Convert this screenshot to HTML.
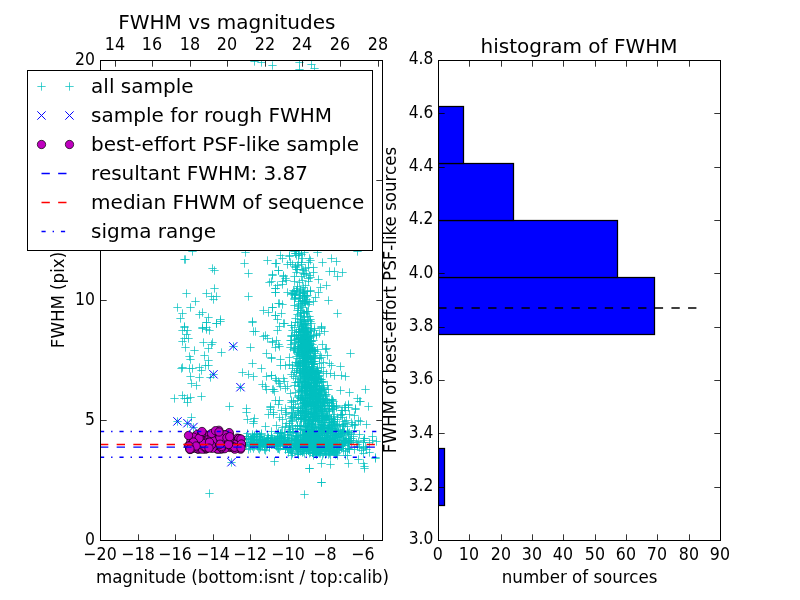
<!DOCTYPE html>
<html><head><meta charset="utf-8"><title>FWHM vs magnitudes</title>
<style>html,body{margin:0;padding:0;background:#fff}body{width:800px;height:600px;overflow:hidden}</style></head>
<body>
<svg width="800" height="600" viewBox="0 0 800 600" style="display:block;font-family:'DejaVu Sans', 'Liberation Sans', sans-serif">
<rect x="0" y="0" width="800" height="600" fill="#fff"/>
<defs><clipPath id="c1"><rect x="100.5" y="60.5" width="282.0" height="480.0"/></clipPath><clipPath id="c2"><rect x="438.5" y="60.5" width="282.0" height="480.0"/></clipPath></defs>
<g clip-path="url(#c1)">
<path d="M180.33 259.5h8.34M184.5 255.33v8.34M181.33 259.5h8.34M185.5 255.33v8.34M188.33 251.5h8.34M192.5 247.33v8.34M208.33 268.5h8.34M212.5 264.33v8.34M210.33 270.5h8.34M214.5 266.33v8.34M241.33 252.5h8.34M245.5 248.33v8.34M240.33 263.5h8.34M244.5 259.33v8.34M244.33 273.5h8.34M248.5 269.33v8.34M263.33 260.5h8.34M267.5 256.33v8.34M271.33 263.5h8.34M275.5 259.33v8.34M274.33 270.5h8.34M278.5 266.33v8.34M268.33 274.5h8.34M272.5 270.33v8.34M265.33 282.5h8.34M269.5 278.33v8.34M267.33 281.5h8.34M271.5 277.33v8.34M271.33 288.5h8.34M275.5 284.33v8.34M271.33 292.5h8.34M275.5 288.33v8.34M210.33 288.5h8.34M214.5 284.33v8.34M202.33 293.5h8.34M206.5 289.33v8.34M207.33 296.5h8.34M211.5 292.33v8.34M212.33 296.5h8.34M216.5 292.33v8.34M209.33 299.5h8.34M213.5 295.33v8.34M182.33 293.5h8.34M186.5 289.33v8.34M191.33 301.5h8.34M195.5 297.33v8.34M173.33 307.5h8.34M177.5 303.33v8.34M186.33 307.5h8.34M190.5 303.33v8.34M178.33 313.5h8.34M182.5 309.33v8.34M176.33 318.5h8.34M180.5 314.33v8.34M198.33 312.5h8.34M202.5 308.33v8.34M195.33 314.5h8.34M199.5 310.33v8.34M204.33 317.5h8.34M208.5 313.33v8.34M202.33 322.5h8.34M206.5 318.33v8.34M216.33 319.5h8.34M220.5 315.33v8.34M212.33 323.5h8.34M216.5 319.33v8.34M244.33 296.5h8.34M248.5 292.33v8.34M248.33 321.5h8.34M252.5 317.33v8.34M259.33 310.5h8.34M263.5 306.33v8.34M264.33 312.5h8.34M268.5 308.33v8.34M268.33 307.5h8.34M272.5 303.33v8.34M271.33 315.5h8.34M275.5 311.33v8.34M274.33 303.5h8.34M278.5 299.33v8.34M180.33 326.5h8.34M184.5 322.33v8.34M198.33 327.5h8.34M202.5 323.33v8.34M202.33 327.5h8.34M206.5 323.33v8.34M180.33 327.5h8.34M184.5 323.33v8.34M178.33 330.5h8.34M182.5 326.33v8.34M183.33 330.5h8.34M187.5 326.33v8.34M182.33 334.5h8.34M186.5 330.33v8.34M180.33 338.5h8.34M184.5 334.33v8.34M184.33 338.5h8.34M188.5 334.33v8.34M178.33 341.5h8.34M182.5 337.33v8.34M181.33 347.5h8.34M185.5 343.33v8.34M190.33 350.5h8.34M194.5 346.33v8.34M202.33 322.5h8.34M206.5 318.33v8.34M198.33 328.5h8.34M202.5 324.33v8.34M202.33 329.5h8.34M206.5 325.33v8.34M205.33 330.5h8.34M209.5 326.33v8.34M212.33 323.5h8.34M216.5 319.33v8.34M216.33 321.5h8.34M220.5 317.33v8.34M199.33 342.5h8.34M203.5 338.33v8.34M208.33 342.5h8.34M212.5 338.33v8.34M207.33 344.5h8.34M211.5 340.33v8.34M204.33 348.5h8.34M208.5 344.33v8.34M217.33 352.5h8.34M221.5 348.33v8.34M200.33 355.5h8.34M204.5 351.33v8.34M204.33 360.5h8.34M208.5 356.33v8.34M185.33 356.5h8.34M189.5 352.33v8.34M186.33 359.5h8.34M190.5 355.33v8.34M178.33 367.5h8.34M182.5 363.33v8.34M177.33 368.5h8.34M181.5 364.33v8.34M185.33 368.5h8.34M189.5 364.33v8.34M188.33 368.5h8.34M192.5 364.33v8.34M195.33 367.5h8.34M199.5 363.33v8.34M197.33 370.5h8.34M201.5 366.33v8.34M201.33 365.5h8.34M205.5 361.33v8.34M204.33 365.5h8.34M208.5 361.33v8.34M186.33 376.5h8.34M190.5 372.33v8.34M195.33 377.5h8.34M199.5 373.33v8.34M206.33 377.5h8.34M210.5 373.33v8.34M187.33 383.5h8.34M191.5 379.33v8.34M192.33 385.5h8.34M196.5 381.33v8.34M170.33 398.5h8.34M174.5 394.33v8.34M178.33 395.5h8.34M182.5 391.33v8.34M180.33 398.5h8.34M184.5 394.33v8.34M183.33 398.5h8.34M187.5 394.33v8.34M186.33 397.5h8.34M190.5 393.33v8.34M183.33 402.5h8.34M187.5 398.33v8.34M197.33 396.5h8.34M201.5 392.33v8.34M248.33 322.5h8.34M252.5 318.33v8.34M249.33 331.5h8.34M253.5 327.33v8.34M246.33 347.5h8.34M250.5 343.33v8.34M248.33 363.5h8.34M252.5 359.33v8.34M238.33 372.5h8.34M242.5 368.33v8.34M244.33 374.5h8.34M248.5 370.33v8.34M249.33 376.5h8.34M253.5 372.33v8.34M257.33 368.5h8.34M261.5 364.33v8.34M261.33 335.5h8.34M265.5 331.33v8.34M263.33 338.5h8.34M267.5 334.33v8.34M259.33 336.5h8.34M263.5 332.33v8.34M268.33 342.5h8.34M272.5 338.33v8.34M273.33 330.5h8.34M277.5 326.33v8.34M262.33 353.5h8.34M266.5 349.33v8.34M267.33 358.5h8.34M271.5 354.33v8.34M262.33 376.5h8.34M266.5 372.33v8.34M267.33 375.5h8.34M271.5 371.33v8.34M271.33 378.5h8.34M275.5 374.33v8.34M274.33 381.5h8.34M278.5 377.33v8.34M258.33 384.5h8.34M262.5 380.33v8.34M261.33 386.5h8.34M265.5 382.33v8.34M268.33 389.5h8.34M272.5 385.33v8.34M270.33 391.5h8.34M274.5 387.33v8.34M242.33 408.5h8.34M246.5 404.33v8.34M266.33 407.5h8.34M270.5 403.33v8.34M274.33 404.5h8.34M278.5 400.33v8.34M229.33 346.5h8.34M233.5 342.33v8.34M209.33 374.5h8.34M213.5 370.33v8.34M236.33 387.5h8.34M240.5 383.33v8.34M173.33 421.5h8.34M177.5 417.33v8.34M183.33 423.5h8.34M187.5 419.33v8.34M189.33 427.5h8.34M193.5 423.33v8.34M227.33 462.5h8.34M231.5 458.33v8.34M187.33 417.5h8.34M191.5 413.33v8.34M242.33 412.5h8.34M246.5 408.33v8.34M318.33 262.5h8.34M322.5 258.33v8.34M327.33 258.5h8.34M331.5 254.33v8.34M332.33 261.5h8.34M336.5 257.33v8.34M330.33 271.5h8.34M334.5 267.33v8.34M338.33 272.5h8.34M342.5 268.33v8.34M333.33 276.5h8.34M337.5 272.33v8.34M314.33 279.5h8.34M318.5 275.33v8.34M305.33 275.5h8.34M309.5 271.33v8.34M322.33 285.5h8.34M326.5 281.33v8.34M316.33 287.5h8.34M320.5 283.33v8.34M314.33 292.5h8.34M318.5 288.33v8.34M306.33 291.5h8.34M310.5 287.33v8.34M302.33 296.5h8.34M306.5 292.33v8.34M353.33 251.5h8.34M357.5 247.33v8.34M317.33 327.5h8.34M321.5 323.33v8.34M272.33 263.5h8.34M276.5 259.33v8.34M274.33 270.5h8.34M278.5 266.33v8.34M279.33 276.5h8.34M283.5 272.33v8.34M268.33 275.5h8.34M272.5 271.33v8.34M271.33 288.5h8.34M275.5 284.33v8.34M271.33 292.5h8.34M275.5 288.33v8.34M278.33 284.5h8.34M282.5 280.33v8.34M275.33 303.5h8.34M279.5 299.33v8.34M278.33 304.5h8.34M282.5 300.33v8.34M268.33 307.5h8.34M272.5 303.33v8.34M271.33 315.5h8.34M275.5 311.33v8.34M277.33 313.5h8.34M281.5 309.33v8.34M273.33 319.5h8.34M277.5 315.33v8.34M279.33 323.5h8.34M283.5 319.33v8.34M275.33 326.5h8.34M279.5 322.33v8.34M317.33 328.5h8.34M321.5 324.33v8.34M318.33 344.5h8.34M322.5 340.33v8.34M323.33 355.5h8.34M327.5 351.33v8.34M327.33 365.5h8.34M331.5 361.33v8.34M322.33 373.5h8.34M326.5 369.33v8.34M337.33 375.5h8.34M341.5 371.33v8.34M341.33 376.5h8.34M345.5 372.33v8.34M361.33 389.5h8.34M365.5 385.33v8.34M345.33 392.5h8.34M349.5 388.33v8.34M336.33 390.5h8.34M340.5 386.33v8.34M353.33 398.5h8.34M357.5 394.33v8.34M356.33 401.5h8.34M360.5 397.33v8.34M344.33 404.5h8.34M348.5 400.33v8.34M351.33 408.5h8.34M355.5 404.33v8.34M268.33 341.5h8.34M272.5 337.33v8.34M267.33 357.5h8.34M271.5 353.33v8.34M276.33 359.5h8.34M280.5 355.33v8.34M276.33 365.5h8.34M280.5 361.33v8.34M281.33 365.5h8.34M285.5 361.33v8.34M285.33 364.5h8.34M289.5 360.33v8.34M267.33 375.5h8.34M271.5 371.33v8.34M272.33 380.5h8.34M276.5 376.33v8.34M275.33 383.5h8.34M279.5 379.33v8.34M269.33 389.5h8.34M273.5 385.33v8.34M276.33 386.5h8.34M280.5 382.33v8.34M305.33 468.5h8.34M309.5 464.33v8.34M317.33 482.5h8.34M321.5 478.33v8.34M326.33 464.5h8.34M330.5 460.33v8.34M317.33 463.5h8.34M321.5 459.33v8.34M360.33 468.5h8.34M364.5 464.33v8.34M359.33 463.5h8.34M363.5 459.33v8.34M344.33 463.5h8.34M348.5 459.33v8.34M270.33 461.5h8.34M274.5 457.33v8.34M371.33 457.5h8.34M375.5 453.33v8.34M354.33 459.5h8.34M358.5 455.33v8.34M368.33 436.5h8.34M372.5 432.33v8.34M368.33 440.5h8.34M372.5 436.33v8.34M362.33 424.5h8.34M366.5 420.33v8.34M356.33 421.5h8.34M360.5 417.33v8.34M351.33 409.5h8.34M355.5 405.33v8.34M350.33 415.5h8.34M354.5 411.33v8.34M344.33 405.5h8.34M348.5 401.33v8.34M355.33 401.5h8.34M359.5 397.33v8.34M338.33 410.5h8.34M342.5 406.33v8.34M205.33 493.5h8.34M209.5 489.33v8.34M300.33 494.5h8.34M304.5 490.33v8.34M317.33 482.5h8.34M321.5 478.33v8.34M305.33 468.5h8.34M309.5 464.33v8.34M360.33 466.5h8.34M364.5 462.33v8.34M371.33 458.5h8.34M375.5 454.33v8.34M268.33 65.5h8.34M272.5 61.33v8.34M295.33 62.5h8.34M299.5 58.33v8.34M295.33 69.5h8.34M299.5 65.33v8.34M307.33 64.5h8.34M311.5 60.33v8.34M310.33 68.5h8.34M314.5 64.33v8.34M257.33 62.5h8.34M261.5 58.33v8.34M250.33 61.5h8.34M254.5 57.33v8.34M291.33 253.5h8.34M295.5 249.33v8.34M304.33 278.5h8.34M308.5 274.33v8.34M296.33 289.5h8.34M300.5 285.33v8.34M313.33 252.5h8.34M317.5 248.33v8.34M306.33 260.5h8.34M310.5 256.33v8.34M295.33 282.5h8.34M299.5 278.33v8.34M293.33 265.5h8.34M297.5 261.33v8.34M293.33 286.5h8.34M297.5 282.33v8.34M298.33 258.5h8.34M302.5 254.33v8.34M292.33 250.5h8.34M296.5 246.33v8.34M300.33 274.5h8.34M304.5 270.33v8.34M294.33 255.5h8.34M298.5 251.33v8.34M299.33 270.5h8.34M303.5 266.33v8.34M301.33 268.5h8.34M305.5 264.33v8.34M278.33 258.5h8.34M282.5 254.33v8.34M293.33 269.5h8.34M297.5 265.33v8.34M297.33 264.5h8.34M301.5 260.33v8.34M297.33 262.5h8.34M301.5 258.33v8.34M292.33 272.5h8.34M296.5 268.33v8.34M283.33 264.5h8.34M287.5 260.33v8.34M290.33 276.5h8.34M294.5 272.33v8.34M281.33 278.5h8.34M285.5 274.33v8.34M291.33 266.5h8.34M295.5 262.33v8.34M304.33 267.5h8.34M308.5 263.33v8.34M279.33 275.5h8.34M283.5 271.33v8.34M297.33 250.5h8.34M301.5 246.33v8.34M294.33 253.5h8.34M298.5 249.33v8.34M306.33 277.5h8.34M310.5 273.33v8.34M293.33 288.5h8.34M297.5 284.33v8.34M294.33 262.5h8.34M298.5 258.33v8.34M302.33 273.5h8.34M306.5 269.33v8.34M292.33 255.5h8.34M296.5 251.33v8.34M304.33 262.5h8.34M308.5 258.33v8.34M292.33 269.5h8.34M296.5 265.33v8.34M285.33 255.5h8.34M289.5 251.33v8.34M286.33 262.5h8.34M290.5 258.33v8.34M285.33 256.5h8.34M289.5 252.33v8.34M282.33 280.5h8.34M286.5 276.33v8.34M278.33 281.5h8.34M282.5 277.33v8.34M304.33 281.5h8.34M308.5 277.33v8.34M301.33 285.5h8.34M305.5 281.33v8.34M299.33 287.5h8.34M303.5 283.33v8.34M290.33 251.5h8.34M294.5 247.33v8.34M298.33 269.5h8.34M302.5 265.33v8.34M290.33 281.5h8.34M294.5 277.33v8.34M297.33 276.5h8.34M301.5 272.33v8.34M300.33 252.5h8.34M304.5 248.33v8.34M291.33 267.5h8.34M295.5 263.33v8.34M299.33 273.5h8.34M303.5 269.33v8.34M298.33 280.5h8.34M302.5 276.33v8.34M289.33 290.5h8.34M293.5 286.33v8.34M283.33 292.5h8.34M287.5 288.33v8.34M303.33 311.5h8.34M307.5 307.33v8.34M301.33 327.5h8.34M305.5 323.33v8.34M300.33 295.5h8.34M304.5 291.33v8.34M290.33 295.5h8.34M294.5 291.33v8.34M290.33 298.5h8.34M294.5 294.33v8.34M300.33 321.5h8.34M304.5 317.33v8.34M299.33 324.5h8.34M303.5 320.33v8.34M296.33 321.5h8.34M300.5 317.33v8.34M295.33 329.5h8.34M299.5 325.33v8.34M296.33 325.5h8.34M300.5 321.33v8.34M297.33 326.5h8.34M301.5 322.33v8.34M291.33 318.5h8.34M295.5 314.33v8.34M301.33 323.5h8.34M305.5 319.33v8.34M293.33 322.5h8.34M297.5 318.33v8.34M302.33 311.5h8.34M306.5 307.33v8.34M292.33 291.5h8.34M296.5 287.33v8.34M292.33 290.5h8.34M296.5 286.33v8.34M295.33 295.5h8.34M299.5 291.33v8.34M306.33 290.5h8.34M310.5 286.33v8.34M298.33 307.5h8.34M302.5 303.33v8.34M301.33 295.5h8.34M305.5 291.33v8.34M290.33 327.5h8.34M294.5 323.33v8.34M307.33 329.5h8.34M311.5 325.33v8.34M297.33 324.5h8.34M301.5 320.33v8.34M293.33 314.5h8.34M297.5 310.33v8.34M291.33 294.5h8.34M295.5 290.33v8.34M298.33 326.5h8.34M302.5 322.33v8.34M294.33 306.5h8.34M298.5 302.33v8.34M311.33 297.5h8.34M315.5 293.33v8.34M305.33 302.5h8.34M309.5 298.33v8.34M296.33 319.5h8.34M300.5 315.33v8.34M294.33 304.5h8.34M298.5 300.33v8.34M290.33 305.5h8.34M294.5 301.33v8.34M294.33 308.5h8.34M298.5 304.33v8.34M301.33 301.5h8.34M305.5 297.33v8.34M297.33 305.5h8.34M301.5 301.33v8.34M305.33 316.5h8.34M309.5 312.33v8.34M299.33 292.5h8.34M303.5 288.33v8.34M299.33 319.5h8.34M303.5 315.33v8.34M300.33 301.5h8.34M304.5 297.33v8.34M303.33 316.5h8.34M307.5 312.33v8.34M303.33 295.5h8.34M307.5 291.33v8.34M298.33 328.5h8.34M302.5 324.33v8.34M300.33 313.5h8.34M304.5 309.33v8.34M303.33 291.5h8.34M307.5 287.33v8.34M300.33 297.5h8.34M304.5 293.33v8.34M300.33 302.5h8.34M304.5 298.33v8.34M288.33 293.5h8.34M292.5 289.33v8.34M287.33 325.5h8.34M291.5 321.33v8.34M287.33 294.5h8.34M291.5 290.33v8.34M300.33 317.5h8.34M304.5 313.33v8.34M302.33 299.5h8.34M306.5 295.33v8.34M300.33 321.5h8.34M304.5 317.33v8.34M296.33 313.5h8.34M300.5 309.33v8.34M309.33 301.5h8.34M313.5 297.33v8.34M298.33 300.5h8.34M302.5 296.33v8.34M303.33 323.5h8.34M307.5 319.33v8.34M297.33 323.5h8.34M301.5 319.33v8.34M288.33 293.5h8.34M292.5 289.33v8.34M304.33 320.5h8.34M308.5 316.33v8.34M302.33 311.5h8.34M306.5 307.33v8.34M295.33 292.5h8.34M299.5 288.33v8.34M297.33 312.5h8.34M301.5 308.33v8.34M298.33 320.5h8.34M302.5 316.33v8.34M299.33 312.5h8.34M303.5 308.33v8.34M301.33 303.5h8.34M305.5 299.33v8.34M295.33 329.5h8.34M299.5 325.33v8.34M304.33 304.5h8.34M308.5 300.33v8.34M302.33 325.5h8.34M306.5 321.33v8.34M296.33 315.5h8.34M300.5 311.33v8.34M296.33 303.5h8.34M300.5 299.33v8.34M298.33 296.5h8.34M302.5 292.33v8.34M294.33 301.5h8.34M298.5 297.33v8.34M301.33 328.5h8.34M305.5 324.33v8.34M304.33 311.5h8.34M308.5 307.33v8.34M293.33 310.5h8.34M297.5 306.33v8.34M296.33 293.5h8.34M300.5 289.33v8.34M291.33 294.5h8.34M295.5 290.33v8.34M295.33 298.5h8.34M299.5 294.33v8.34M299.33 329.5h8.34M303.5 325.33v8.34M300.33 291.5h8.34M304.5 287.33v8.34M287.33 325.5h8.34M291.5 321.33v8.34M291.33 322.5h8.34M295.5 318.33v8.34M307.33 323.5h8.34M311.5 319.33v8.34M301.33 324.5h8.34M305.5 320.33v8.34M299.33 293.5h8.34M303.5 289.33v8.34M303.33 301.5h8.34M307.5 297.33v8.34M280.33 323.5h8.34M284.5 319.33v8.34M290.33 299.5h8.34M294.5 295.33v8.34M306.33 321.5h8.34M310.5 317.33v8.34M291.33 297.5h8.34M295.5 293.33v8.34M296.33 298.5h8.34M300.5 294.33v8.34M302.33 327.5h8.34M306.5 323.33v8.34M296.33 310.5h8.34M300.5 306.33v8.34M290.33 291.5h8.34M294.5 287.33v8.34M299.33 303.5h8.34M303.5 299.33v8.34M310.33 328.5h8.34M314.5 324.33v8.34M297.33 319.5h8.34M301.5 315.33v8.34M300.33 334.5h8.34M304.5 330.33v8.34M294.33 341.5h8.34M298.5 337.33v8.34M303.33 359.5h8.34M307.5 355.33v8.34M300.33 361.5h8.34M304.5 357.33v8.34M306.33 359.5h8.34M310.5 355.33v8.34M298.33 349.5h8.34M302.5 345.33v8.34M304.33 336.5h8.34M308.5 332.33v8.34M306.33 357.5h8.34M310.5 353.33v8.34M299.33 368.5h8.34M303.5 364.33v8.34M296.33 335.5h8.34M300.5 331.33v8.34M293.33 351.5h8.34M297.5 347.33v8.34M295.33 348.5h8.34M299.5 344.33v8.34M300.33 340.5h8.34M304.5 336.33v8.34M300.33 341.5h8.34M304.5 337.33v8.34M309.33 347.5h8.34M313.5 343.33v8.34M307.33 341.5h8.34M311.5 337.33v8.34M301.33 348.5h8.34M305.5 344.33v8.34M304.33 358.5h8.34M308.5 354.33v8.34M303.33 363.5h8.34M307.5 359.33v8.34M315.33 358.5h8.34M319.5 354.33v8.34M296.33 346.5h8.34M300.5 342.33v8.34M309.33 367.5h8.34M313.5 363.33v8.34M300.33 351.5h8.34M304.5 347.33v8.34M295.33 365.5h8.34M299.5 361.33v8.34M291.33 362.5h8.34M295.5 358.33v8.34M300.33 345.5h8.34M304.5 341.33v8.34M302.33 369.5h8.34M306.5 365.33v8.34M303.33 343.5h8.34M307.5 339.33v8.34M302.33 352.5h8.34M306.5 348.33v8.34M294.33 352.5h8.34M298.5 348.33v8.34M304.33 356.5h8.34M308.5 352.33v8.34M299.33 366.5h8.34M303.5 362.33v8.34M302.33 366.5h8.34M306.5 362.33v8.34M303.33 342.5h8.34M307.5 338.33v8.34M302.33 348.5h8.34M306.5 344.33v8.34M303.33 344.5h8.34M307.5 340.33v8.34M299.33 344.5h8.34M303.5 340.33v8.34M298.33 344.5h8.34M302.5 340.33v8.34M293.33 338.5h8.34M297.5 334.33v8.34M304.33 352.5h8.34M308.5 348.33v8.34M301.33 367.5h8.34M305.5 363.33v8.34M295.33 355.5h8.34M299.5 351.33v8.34M297.33 345.5h8.34M301.5 341.33v8.34M294.33 338.5h8.34M298.5 334.33v8.34M299.33 364.5h8.34M303.5 360.33v8.34M311.33 358.5h8.34M315.5 354.33v8.34M290.33 350.5h8.34M294.5 346.33v8.34M304.33 349.5h8.34M308.5 345.33v8.34M307.33 369.5h8.34M311.5 365.33v8.34M302.33 334.5h8.34M306.5 330.33v8.34M298.33 350.5h8.34M302.5 346.33v8.34M300.33 345.5h8.34M304.5 341.33v8.34M303.33 332.5h8.34M307.5 328.33v8.34M299.33 357.5h8.34M303.5 353.33v8.34M302.33 357.5h8.34M306.5 353.33v8.34M301.33 340.5h8.34M305.5 336.33v8.34M293.33 368.5h8.34M297.5 364.33v8.34M307.33 348.5h8.34M311.5 344.33v8.34M309.33 340.5h8.34M313.5 336.33v8.34M305.33 350.5h8.34M309.5 346.33v8.34M304.33 362.5h8.34M308.5 358.33v8.34M299.33 369.5h8.34M303.5 365.33v8.34M312.33 335.5h8.34M316.5 331.33v8.34M300.33 343.5h8.34M304.5 339.33v8.34M288.33 368.5h8.34M292.5 364.33v8.34M293.33 366.5h8.34M297.5 362.33v8.34M298.33 330.5h8.34M302.5 326.33v8.34M289.33 349.5h8.34M293.5 345.33v8.34M294.33 331.5h8.34M298.5 327.33v8.34M296.33 368.5h8.34M300.5 364.33v8.34M307.33 366.5h8.34M311.5 362.33v8.34M304.33 364.5h8.34M308.5 360.33v8.34M302.33 345.5h8.34M306.5 341.33v8.34M296.33 342.5h8.34M300.5 338.33v8.34M310.33 330.5h8.34M314.5 326.33v8.34M306.33 356.5h8.34M310.5 352.33v8.34M317.33 367.5h8.34M321.5 363.33v8.34M295.33 339.5h8.34M299.5 335.33v8.34M292.33 339.5h8.34M296.5 335.33v8.34M300.33 331.5h8.34M304.5 327.33v8.34M296.33 344.5h8.34M300.5 340.33v8.34M308.33 364.5h8.34M312.5 360.33v8.34M307.33 358.5h8.34M311.5 354.33v8.34M301.33 332.5h8.34M305.5 328.33v8.34M298.33 337.5h8.34M302.5 333.33v8.34M298.33 345.5h8.34M302.5 341.33v8.34M298.33 366.5h8.34M302.5 362.33v8.34M299.33 340.5h8.34M303.5 336.33v8.34M299.33 330.5h8.34M303.5 326.33v8.34M299.33 350.5h8.34M303.5 346.33v8.34M296.33 339.5h8.34M300.5 335.33v8.34M301.33 356.5h8.34M305.5 352.33v8.34M301.33 345.5h8.34M305.5 341.33v8.34M294.33 338.5h8.34M298.5 334.33v8.34M302.33 341.5h8.34M306.5 337.33v8.34M298.33 341.5h8.34M302.5 337.33v8.34M298.33 368.5h8.34M302.5 364.33v8.34M301.33 358.5h8.34M305.5 354.33v8.34M305.33 359.5h8.34M309.5 355.33v8.34M302.33 342.5h8.34M306.5 338.33v8.34M294.33 348.5h8.34M298.5 344.33v8.34M307.33 364.5h8.34M311.5 360.33v8.34M302.33 357.5h8.34M306.5 353.33v8.34M308.33 350.5h8.34M312.5 346.33v8.34M306.33 337.5h8.34M310.5 333.33v8.34M299.33 368.5h8.34M303.5 364.33v8.34M307.33 336.5h8.34M311.5 332.33v8.34M299.33 338.5h8.34M303.5 334.33v8.34M308.33 349.5h8.34M312.5 345.33v8.34M300.33 336.5h8.34M304.5 332.33v8.34M288.33 330.5h8.34M292.5 326.33v8.34M301.33 341.5h8.34M305.5 337.33v8.34M300.33 360.5h8.34M304.5 356.33v8.34M303.33 351.5h8.34M307.5 347.33v8.34M308.33 361.5h8.34M312.5 357.33v8.34M313.33 368.5h8.34M317.5 364.33v8.34M303.33 355.5h8.34M307.5 351.33v8.34M298.33 340.5h8.34M302.5 336.33v8.34M298.33 363.5h8.34M302.5 359.33v8.34M305.33 355.5h8.34M309.5 351.33v8.34M306.33 357.5h8.34M310.5 353.33v8.34M303.33 346.5h8.34M307.5 342.33v8.34M296.33 335.5h8.34M300.5 331.33v8.34M292.33 332.5h8.34M296.5 328.33v8.34M298.33 358.5h8.34M302.5 354.33v8.34M296.33 363.5h8.34M300.5 359.33v8.34M300.33 354.5h8.34M304.5 350.33v8.34M294.33 364.5h8.34M298.5 360.33v8.34M299.33 330.5h8.34M303.5 326.33v8.34M301.33 337.5h8.34M305.5 333.33v8.34M302.33 362.5h8.34M306.5 358.33v8.34M298.33 352.5h8.34M302.5 348.33v8.34M302.33 339.5h8.34M306.5 335.33v8.34M303.33 336.5h8.34M307.5 332.33v8.34M300.33 336.5h8.34M304.5 332.33v8.34M296.33 337.5h8.34M300.5 333.33v8.34M302.33 351.5h8.34M306.5 347.33v8.34M300.33 334.5h8.34M304.5 330.33v8.34M291.33 343.5h8.34M295.5 339.33v8.34M294.33 346.5h8.34M298.5 342.33v8.34M297.33 348.5h8.34M301.5 344.33v8.34M306.33 343.5h8.34M310.5 339.33v8.34M303.33 345.5h8.34M307.5 341.33v8.34M296.33 346.5h8.34M300.5 342.33v8.34M301.33 366.5h8.34M305.5 362.33v8.34M303.33 339.5h8.34M307.5 335.33v8.34M302.33 361.5h8.34M306.5 357.33v8.34M302.33 355.5h8.34M306.5 351.33v8.34M305.33 345.5h8.34M309.5 341.33v8.34M308.33 366.5h8.34M312.5 362.33v8.34M301.33 357.5h8.34M305.5 353.33v8.34M303.33 343.5h8.34M307.5 339.33v8.34M302.33 332.5h8.34M306.5 328.33v8.34M319.33 362.5h8.34M323.5 358.33v8.34M299.33 345.5h8.34M303.5 341.33v8.34M294.33 331.5h8.34M298.5 327.33v8.34M298.33 342.5h8.34M302.5 338.33v8.34M305.33 369.5h8.34M309.5 365.33v8.34M306.33 351.5h8.34M310.5 347.33v8.34M297.33 335.5h8.34M301.5 331.33v8.34M299.33 342.5h8.34M303.5 338.33v8.34M303.33 351.5h8.34M307.5 347.33v8.34M299.33 356.5h8.34M303.5 352.33v8.34M296.33 352.5h8.34M300.5 348.33v8.34M300.33 353.5h8.34M304.5 349.33v8.34M298.33 369.5h8.34M302.5 365.33v8.34M297.33 342.5h8.34M301.5 338.33v8.34M304.33 348.5h8.34M308.5 344.33v8.34M310.33 350.5h8.34M314.5 346.33v8.34M307.33 361.5h8.34M311.5 357.33v8.34M303.33 358.5h8.34M307.5 354.33v8.34M301.33 343.5h8.34M305.5 339.33v8.34M294.33 363.5h8.34M298.5 359.33v8.34M301.33 336.5h8.34M305.5 332.33v8.34M300.33 360.5h8.34M304.5 356.33v8.34M303.33 353.5h8.34M307.5 349.33v8.34M306.33 331.5h8.34M310.5 327.33v8.34M292.33 356.5h8.34M296.5 352.33v8.34M300.33 336.5h8.34M304.5 332.33v8.34M300.33 362.5h8.34M304.5 358.33v8.34M309.33 361.5h8.34M313.5 357.33v8.34M293.33 358.5h8.34M297.5 354.33v8.34M309.33 364.5h8.34M313.5 360.33v8.34M300.33 342.5h8.34M304.5 338.33v8.34M305.33 338.5h8.34M309.5 334.33v8.34M298.33 365.5h8.34M302.5 361.33v8.34M297.33 348.5h8.34M301.5 344.33v8.34M304.33 350.5h8.34M308.5 346.33v8.34M294.33 347.5h8.34M298.5 343.33v8.34M301.33 354.5h8.34M305.5 350.33v8.34M309.33 356.5h8.34M313.5 352.33v8.34M305.33 348.5h8.34M309.5 344.33v8.34M309.33 364.5h8.34M313.5 360.33v8.34M302.33 346.5h8.34M306.5 342.33v8.34M302.33 358.5h8.34M306.5 354.33v8.34M302.33 331.5h8.34M306.5 327.33v8.34M294.33 354.5h8.34M298.5 350.33v8.34M298.33 332.5h8.34M302.5 328.33v8.34M304.33 340.5h8.34M308.5 336.33v8.34M300.33 330.5h8.34M304.5 326.33v8.34M307.33 362.5h8.34M311.5 358.33v8.34M305.33 335.5h8.34M309.5 331.33v8.34M303.33 332.5h8.34M307.5 328.33v8.34M308.33 344.5h8.34M312.5 340.33v8.34M300.33 343.5h8.34M304.5 339.33v8.34M310.33 363.5h8.34M314.5 359.33v8.34M294.33 337.5h8.34M298.5 333.33v8.34M305.33 345.5h8.34M309.5 341.33v8.34M308.33 364.5h8.34M312.5 360.33v8.34M301.33 353.5h8.34M305.5 349.33v8.34M307.33 341.5h8.34M311.5 337.33v8.34M301.33 338.5h8.34M305.5 334.33v8.34M301.33 349.5h8.34M305.5 345.33v8.34M305.33 367.5h8.34M309.5 363.33v8.34M315.33 363.5h8.34M319.5 359.33v8.34M299.33 332.5h8.34M303.5 328.33v8.34M298.33 350.5h8.34M302.5 346.33v8.34M303.33 332.5h8.34M307.5 328.33v8.34M297.33 331.5h8.34M301.5 327.33v8.34M300.33 362.5h8.34M304.5 358.33v8.34M291.33 348.5h8.34M295.5 344.33v8.34M302.33 341.5h8.34M306.5 337.33v8.34M298.33 352.5h8.34M302.5 348.33v8.34M304.33 347.5h8.34M308.5 343.33v8.34M309.33 355.5h8.34M313.5 351.33v8.34M290.33 335.5h8.34M294.5 331.33v8.34M297.33 354.5h8.34M301.5 350.33v8.34M301.33 350.5h8.34M305.5 346.33v8.34M296.33 368.5h8.34M300.5 364.33v8.34M302.33 342.5h8.34M306.5 338.33v8.34M301.33 355.5h8.34M305.5 351.33v8.34M307.33 349.5h8.34M311.5 345.33v8.34M292.33 362.5h8.34M296.5 358.33v8.34M301.33 361.5h8.34M305.5 357.33v8.34M298.33 340.5h8.34M302.5 336.33v8.34M299.33 356.5h8.34M303.5 352.33v8.34M292.33 334.5h8.34M296.5 330.33v8.34M300.33 351.5h8.34M304.5 347.33v8.34M294.33 335.5h8.34M298.5 331.33v8.34M295.33 353.5h8.34M299.5 349.33v8.34M304.33 359.5h8.34M308.5 355.33v8.34M301.33 362.5h8.34M305.5 358.33v8.34M310.33 361.5h8.34M314.5 357.33v8.34M300.33 351.5h8.34M304.5 347.33v8.34M303.33 337.5h8.34M307.5 333.33v8.34M293.33 352.5h8.34M297.5 348.33v8.34M298.33 362.5h8.34M302.5 358.33v8.34M305.33 345.5h8.34M309.5 341.33v8.34M295.33 361.5h8.34M299.5 357.33v8.34M302.33 367.5h8.34M306.5 363.33v8.34M302.33 347.5h8.34M306.5 343.33v8.34M290.33 342.5h8.34M294.5 338.33v8.34M306.33 340.5h8.34M310.5 336.33v8.34M304.33 346.5h8.34M308.5 342.33v8.34M287.33 336.5h8.34M291.5 332.33v8.34M298.33 347.5h8.34M302.5 343.33v8.34M297.33 339.5h8.34M301.5 335.33v8.34M302.33 331.5h8.34M306.5 327.33v8.34M298.33 358.5h8.34M302.5 354.33v8.34M304.33 336.5h8.34M308.5 332.33v8.34M306.33 387.5h8.34M310.5 383.33v8.34M309.33 386.5h8.34M313.5 382.33v8.34M304.33 377.5h8.34M308.5 373.33v8.34M317.33 381.5h8.34M321.5 377.33v8.34M297.33 389.5h8.34M301.5 385.33v8.34M307.33 382.5h8.34M311.5 378.33v8.34M309.33 398.5h8.34M313.5 394.33v8.34M317.33 389.5h8.34M321.5 385.33v8.34M310.33 374.5h8.34M314.5 370.33v8.34M304.33 375.5h8.34M308.5 371.33v8.34M312.33 399.5h8.34M316.5 395.33v8.34M311.33 381.5h8.34M315.5 377.33v8.34M311.33 372.5h8.34M315.5 368.33v8.34M300.33 382.5h8.34M304.5 378.33v8.34M312.33 394.5h8.34M316.5 390.33v8.34M305.33 395.5h8.34M309.5 391.33v8.34M303.33 391.5h8.34M307.5 387.33v8.34M300.33 371.5h8.34M304.5 367.33v8.34M304.33 371.5h8.34M308.5 367.33v8.34M320.33 392.5h8.34M324.5 388.33v8.34M310.33 378.5h8.34M314.5 374.33v8.34M307.33 399.5h8.34M311.5 395.33v8.34M306.33 373.5h8.34M310.5 369.33v8.34M313.33 370.5h8.34M317.5 366.33v8.34M301.33 388.5h8.34M305.5 384.33v8.34M299.33 399.5h8.34M303.5 395.33v8.34M309.33 392.5h8.34M313.5 388.33v8.34M302.33 370.5h8.34M306.5 366.33v8.34M321.33 396.5h8.34M325.5 392.33v8.34M312.33 370.5h8.34M316.5 366.33v8.34M290.33 372.5h8.34M294.5 368.33v8.34M312.33 394.5h8.34M316.5 390.33v8.34M299.33 378.5h8.34M303.5 374.33v8.34M305.33 385.5h8.34M309.5 381.33v8.34M315.33 398.5h8.34M319.5 394.33v8.34M301.33 374.5h8.34M305.5 370.33v8.34M301.33 396.5h8.34M305.5 392.33v8.34M308.33 393.5h8.34M312.5 389.33v8.34M309.33 396.5h8.34M313.5 392.33v8.34M296.33 398.5h8.34M300.5 394.33v8.34M307.33 395.5h8.34M311.5 391.33v8.34M306.33 387.5h8.34M310.5 383.33v8.34M311.33 387.5h8.34M315.5 383.33v8.34M298.33 399.5h8.34M302.5 395.33v8.34M310.33 374.5h8.34M314.5 370.33v8.34M302.33 374.5h8.34M306.5 370.33v8.34M308.33 373.5h8.34M312.5 369.33v8.34M301.33 373.5h8.34M305.5 369.33v8.34M312.33 372.5h8.34M316.5 368.33v8.34M312.33 392.5h8.34M316.5 388.33v8.34M293.33 382.5h8.34M297.5 378.33v8.34M301.33 386.5h8.34M305.5 382.33v8.34M305.33 375.5h8.34M309.5 371.33v8.34M294.33 397.5h8.34M298.5 393.33v8.34M312.33 379.5h8.34M316.5 375.33v8.34M292.33 372.5h8.34M296.5 368.33v8.34M296.33 370.5h8.34M300.5 366.33v8.34M313.33 372.5h8.34M317.5 368.33v8.34M312.33 378.5h8.34M316.5 374.33v8.34M312.33 385.5h8.34M316.5 381.33v8.34M302.33 376.5h8.34M306.5 372.33v8.34M311.33 392.5h8.34M315.5 388.33v8.34M287.33 374.5h8.34M291.5 370.33v8.34M307.33 387.5h8.34M311.5 383.33v8.34M320.33 389.5h8.34M324.5 385.33v8.34M308.33 372.5h8.34M312.5 368.33v8.34M304.33 382.5h8.34M308.5 378.33v8.34M321.33 399.5h8.34M325.5 395.33v8.34M311.33 386.5h8.34M315.5 382.33v8.34M304.33 382.5h8.34M308.5 378.33v8.34M313.33 386.5h8.34M317.5 382.33v8.34M307.33 376.5h8.34M311.5 372.33v8.34M294.33 396.5h8.34M298.5 392.33v8.34M313.33 380.5h8.34M317.5 376.33v8.34M309.33 399.5h8.34M313.5 395.33v8.34M310.33 380.5h8.34M314.5 376.33v8.34M328.33 399.5h8.34M332.5 395.33v8.34M302.33 370.5h8.34M306.5 366.33v8.34M304.33 375.5h8.34M308.5 371.33v8.34M303.33 375.5h8.34M307.5 371.33v8.34M303.33 373.5h8.34M307.5 369.33v8.34M299.33 373.5h8.34M303.5 369.33v8.34M301.33 393.5h8.34M305.5 389.33v8.34M306.33 389.5h8.34M310.5 385.33v8.34M317.33 393.5h8.34M321.5 389.33v8.34M314.33 396.5h8.34M318.5 392.33v8.34M296.33 391.5h8.34M300.5 387.33v8.34M312.33 377.5h8.34M316.5 373.33v8.34M306.33 371.5h8.34M310.5 367.33v8.34M314.33 378.5h8.34M318.5 374.33v8.34M311.33 373.5h8.34M315.5 369.33v8.34M300.33 376.5h8.34M304.5 372.33v8.34M295.33 371.5h8.34M299.5 367.33v8.34M300.33 390.5h8.34M304.5 386.33v8.34M310.33 386.5h8.34M314.5 382.33v8.34M308.33 395.5h8.34M312.5 391.33v8.34M302.33 373.5h8.34M306.5 369.33v8.34M295.33 372.5h8.34M299.5 368.33v8.34M302.33 392.5h8.34M306.5 388.33v8.34M316.33 397.5h8.34M320.5 393.33v8.34M311.33 386.5h8.34M315.5 382.33v8.34M298.33 390.5h8.34M302.5 386.33v8.34M297.33 391.5h8.34M301.5 387.33v8.34M292.33 370.5h8.34M296.5 366.33v8.34M306.33 382.5h8.34M310.5 378.33v8.34M308.33 394.5h8.34M312.5 390.33v8.34M306.33 370.5h8.34M310.5 366.33v8.34M301.33 387.5h8.34M305.5 383.33v8.34M302.33 382.5h8.34M306.5 378.33v8.34M309.33 376.5h8.34M313.5 372.33v8.34M309.33 385.5h8.34M313.5 381.33v8.34M304.33 398.5h8.34M308.5 394.33v8.34M314.33 394.5h8.34M318.5 390.33v8.34M307.33 395.5h8.34M311.5 391.33v8.34M298.33 387.5h8.34M302.5 383.33v8.34M311.33 377.5h8.34M315.5 373.33v8.34M303.33 372.5h8.34M307.5 368.33v8.34M313.33 399.5h8.34M317.5 395.33v8.34M305.33 370.5h8.34M309.5 366.33v8.34M313.33 371.5h8.34M317.5 367.33v8.34M315.33 389.5h8.34M319.5 385.33v8.34M315.33 390.5h8.34M319.5 386.33v8.34M303.33 390.5h8.34M307.5 386.33v8.34M319.33 398.5h8.34M323.5 394.33v8.34M303.33 384.5h8.34M307.5 380.33v8.34M295.33 390.5h8.34M299.5 386.33v8.34M308.33 393.5h8.34M312.5 389.33v8.34M307.33 387.5h8.34M311.5 383.33v8.34M301.33 387.5h8.34M305.5 383.33v8.34M315.33 394.5h8.34M319.5 390.33v8.34M311.33 393.5h8.34M315.5 389.33v8.34M311.33 390.5h8.34M315.5 386.33v8.34M304.33 386.5h8.34M308.5 382.33v8.34M311.33 389.5h8.34M315.5 385.33v8.34M305.33 393.5h8.34M309.5 389.33v8.34M308.33 379.5h8.34M312.5 375.33v8.34M305.33 397.5h8.34M309.5 393.33v8.34M309.33 384.5h8.34M313.5 380.33v8.34M309.33 394.5h8.34M313.5 390.33v8.34M312.33 373.5h8.34M316.5 369.33v8.34M306.33 376.5h8.34M310.5 372.33v8.34M305.33 391.5h8.34M309.5 387.33v8.34M309.33 383.5h8.34M313.5 379.33v8.34M298.33 385.5h8.34M302.5 381.33v8.34M306.33 373.5h8.34M310.5 369.33v8.34M312.33 388.5h8.34M316.5 384.33v8.34M301.33 381.5h8.34M305.5 377.33v8.34M307.33 379.5h8.34M311.5 375.33v8.34M312.33 389.5h8.34M316.5 385.33v8.34M319.33 371.5h8.34M323.5 367.33v8.34M303.33 379.5h8.34M307.5 375.33v8.34M308.33 376.5h8.34M312.5 372.33v8.34M307.33 377.5h8.34M311.5 373.33v8.34M321.33 395.5h8.34M325.5 391.33v8.34M306.33 372.5h8.34M310.5 368.33v8.34M303.33 388.5h8.34M307.5 384.33v8.34M311.33 376.5h8.34M315.5 372.33v8.34M299.33 370.5h8.34M303.5 366.33v8.34M303.33 398.5h8.34M307.5 394.33v8.34M311.33 399.5h8.34M315.5 395.33v8.34M313.33 382.5h8.34M317.5 378.33v8.34M306.33 377.5h8.34M310.5 373.33v8.34M319.33 381.5h8.34M323.5 377.33v8.34M314.33 391.5h8.34M318.5 387.33v8.34M312.33 379.5h8.34M316.5 375.33v8.34M306.33 397.5h8.34M310.5 393.33v8.34M318.33 382.5h8.34M322.5 378.33v8.34M308.33 371.5h8.34M312.5 367.33v8.34M314.33 395.5h8.34M318.5 391.33v8.34M319.33 387.5h8.34M323.5 383.33v8.34M305.33 374.5h8.34M309.5 370.33v8.34M315.33 388.5h8.34M319.5 384.33v8.34M297.33 375.5h8.34M301.5 371.33v8.34M312.33 392.5h8.34M316.5 388.33v8.34M302.33 370.5h8.34M306.5 366.33v8.34M304.33 382.5h8.34M308.5 378.33v8.34M308.33 396.5h8.34M312.5 392.33v8.34M303.33 371.5h8.34M307.5 367.33v8.34M300.33 381.5h8.34M304.5 377.33v8.34M303.33 384.5h8.34M307.5 380.33v8.34M310.33 380.5h8.34M314.5 376.33v8.34M296.33 377.5h8.34M300.5 373.33v8.34M311.33 399.5h8.34M315.5 395.33v8.34M302.33 376.5h8.34M306.5 372.33v8.34M291.33 378.5h8.34M295.5 374.33v8.34M311.33 374.5h8.34M315.5 370.33v8.34M298.33 397.5h8.34M302.5 393.33v8.34M301.33 390.5h8.34M305.5 386.33v8.34M305.33 395.5h8.34M309.5 391.33v8.34M306.33 398.5h8.34M310.5 394.33v8.34M291.33 382.5h8.34M295.5 378.33v8.34M322.33 394.5h8.34M326.5 390.33v8.34M307.33 382.5h8.34M311.5 378.33v8.34M314.33 372.5h8.34M318.5 368.33v8.34M307.33 385.5h8.34M311.5 381.33v8.34M314.33 381.5h8.34M318.5 377.33v8.34M299.33 370.5h8.34M303.5 366.33v8.34M316.33 379.5h8.34M320.5 375.33v8.34M294.33 381.5h8.34M298.5 377.33v8.34M300.33 378.5h8.34M304.5 374.33v8.34M313.33 383.5h8.34M317.5 379.33v8.34M305.33 382.5h8.34M309.5 378.33v8.34M307.33 386.5h8.34M311.5 382.33v8.34M308.33 391.5h8.34M312.5 387.33v8.34M298.33 388.5h8.34M302.5 384.33v8.34M307.33 374.5h8.34M311.5 370.33v8.34M306.33 371.5h8.34M310.5 367.33v8.34M302.33 388.5h8.34M306.5 384.33v8.34M303.33 371.5h8.34M307.5 367.33v8.34M315.33 386.5h8.34M319.5 382.33v8.34M303.33 372.5h8.34M307.5 368.33v8.34M297.33 384.5h8.34M301.5 380.33v8.34M302.33 385.5h8.34M306.5 381.33v8.34M321.33 394.5h8.34M325.5 390.33v8.34M310.33 390.5h8.34M314.5 386.33v8.34M310.33 393.5h8.34M314.5 389.33v8.34M314.33 373.5h8.34M318.5 369.33v8.34M309.33 393.5h8.34M313.5 389.33v8.34M308.33 397.5h8.34M312.5 393.33v8.34M307.33 391.5h8.34M311.5 387.33v8.34M303.33 378.5h8.34M307.5 374.33v8.34M307.33 380.5h8.34M311.5 376.33v8.34M305.33 388.5h8.34M309.5 384.33v8.34M300.33 374.5h8.34M304.5 370.33v8.34M313.33 396.5h8.34M317.5 392.33v8.34M315.33 385.5h8.34M319.5 381.33v8.34M315.33 399.5h8.34M319.5 395.33v8.34M298.33 372.5h8.34M302.5 368.33v8.34M305.33 388.5h8.34M309.5 384.33v8.34M313.33 399.5h8.34M317.5 395.33v8.34M316.33 390.5h8.34M320.5 386.33v8.34M318.33 399.5h8.34M322.5 395.33v8.34M305.33 376.5h8.34M309.5 372.33v8.34M301.33 395.5h8.34M305.5 391.33v8.34M311.33 378.5h8.34M315.5 374.33v8.34M317.33 390.5h8.34M321.5 386.33v8.34M310.33 374.5h8.34M314.5 370.33v8.34M308.33 374.5h8.34M312.5 370.33v8.34M308.33 398.5h8.34M312.5 394.33v8.34M311.33 398.5h8.34M315.5 394.33v8.34M311.33 398.5h8.34M315.5 394.33v8.34M305.33 398.5h8.34M309.5 394.33v8.34M306.33 394.5h8.34M310.5 390.33v8.34M300.33 386.5h8.34M304.5 382.33v8.34M301.33 381.5h8.34M305.5 377.33v8.34M303.33 370.5h8.34M307.5 366.33v8.34M317.33 379.5h8.34M321.5 375.33v8.34M296.33 398.5h8.34M300.5 394.33v8.34M310.33 372.5h8.34M314.5 368.33v8.34M306.33 394.5h8.34M310.5 390.33v8.34M301.33 373.5h8.34M305.5 369.33v8.34M311.33 398.5h8.34M315.5 394.33v8.34M301.33 377.5h8.34M305.5 373.33v8.34M323.33 385.5h8.34M327.5 381.33v8.34M296.33 376.5h8.34M300.5 372.33v8.34M301.33 388.5h8.34M305.5 384.33v8.34M312.33 382.5h8.34M316.5 378.33v8.34M324.33 389.5h8.34M328.5 385.33v8.34M327.33 399.5h8.34M331.5 395.33v8.34M319.33 388.5h8.34M323.5 384.33v8.34M297.33 386.5h8.34M301.5 382.33v8.34M303.33 386.5h8.34M307.5 382.33v8.34M310.33 377.5h8.34M314.5 373.33v8.34M310.33 394.5h8.34M314.5 390.33v8.34M310.33 393.5h8.34M314.5 389.33v8.34M296.33 373.5h8.34M300.5 369.33v8.34M305.33 373.5h8.34M309.5 369.33v8.34M302.33 390.5h8.34M306.5 386.33v8.34M307.33 383.5h8.34M311.5 379.33v8.34M298.33 372.5h8.34M302.5 368.33v8.34M316.33 391.5h8.34M320.5 387.33v8.34M309.33 389.5h8.34M313.5 385.33v8.34M304.33 374.5h8.34M308.5 370.33v8.34M300.33 371.5h8.34M304.5 367.33v8.34M294.33 395.5h8.34M298.5 391.33v8.34M309.33 393.5h8.34M313.5 389.33v8.34M315.33 376.5h8.34M319.5 372.33v8.34M326.33 373.5h8.34M330.5 369.33v8.34M301.33 394.5h8.34M305.5 390.33v8.34M310.33 382.5h8.34M314.5 378.33v8.34M307.33 379.5h8.34M311.5 375.33v8.34M312.33 398.5h8.34M316.5 394.33v8.34M303.33 393.5h8.34M307.5 389.33v8.34M316.33 395.5h8.34M320.5 391.33v8.34M309.33 380.5h8.34M313.5 376.33v8.34M312.33 385.5h8.34M316.5 381.33v8.34M315.33 375.5h8.34M319.5 371.33v8.34M317.33 390.5h8.34M321.5 386.33v8.34M307.33 371.5h8.34M311.5 367.33v8.34M297.33 395.5h8.34M301.5 391.33v8.34M314.33 407.5h8.34M318.5 403.33v8.34M307.33 413.5h8.34M311.5 409.33v8.34M304.33 404.5h8.34M308.5 400.33v8.34M297.33 400.5h8.34M301.5 396.33v8.34M285.33 423.5h8.34M289.5 419.33v8.34M306.33 429.5h8.34M310.5 425.33v8.34M286.33 432.5h8.34M290.5 428.33v8.34M308.33 420.5h8.34M312.5 416.33v8.34M308.33 413.5h8.34M312.5 409.33v8.34M317.33 404.5h8.34M321.5 400.33v8.34M312.33 400.5h8.34M316.5 396.33v8.34M322.33 419.5h8.34M326.5 415.33v8.34M340.33 432.5h8.34M344.5 428.33v8.34M320.33 405.5h8.34M324.5 401.33v8.34M324.33 409.5h8.34M328.5 405.33v8.34M316.33 409.5h8.34M320.5 405.33v8.34M300.33 415.5h8.34M304.5 411.33v8.34M300.33 419.5h8.34M304.5 415.33v8.34M317.33 431.5h8.34M321.5 427.33v8.34M314.33 400.5h8.34M318.5 396.33v8.34M318.33 409.5h8.34M322.5 405.33v8.34M313.33 404.5h8.34M317.5 400.33v8.34M318.33 428.5h8.34M322.5 424.33v8.34M328.33 428.5h8.34M332.5 424.33v8.34M325.33 422.5h8.34M329.5 418.33v8.34M320.33 425.5h8.34M324.5 421.33v8.34M317.33 413.5h8.34M321.5 409.33v8.34M310.33 408.5h8.34M314.5 404.33v8.34M307.33 412.5h8.34M311.5 408.33v8.34M301.33 419.5h8.34M305.5 415.33v8.34M332.33 406.5h8.34M336.5 402.33v8.34M296.33 413.5h8.34M300.5 409.33v8.34M285.33 425.5h8.34M289.5 421.33v8.34M317.33 424.5h8.34M321.5 420.33v8.34M297.33 418.5h8.34M301.5 414.33v8.34M314.33 433.5h8.34M318.5 429.33v8.34M325.33 405.5h8.34M329.5 401.33v8.34M288.33 431.5h8.34M292.5 427.33v8.34M316.33 410.5h8.34M320.5 406.33v8.34M306.33 432.5h8.34M310.5 428.33v8.34M322.33 415.5h8.34M326.5 411.33v8.34M315.33 409.5h8.34M319.5 405.33v8.34M291.33 428.5h8.34M295.5 424.33v8.34M319.33 401.5h8.34M323.5 397.33v8.34M325.33 422.5h8.34M329.5 418.33v8.34M287.33 406.5h8.34M291.5 402.33v8.34M312.33 400.5h8.34M316.5 396.33v8.34M302.33 404.5h8.34M306.5 400.33v8.34M293.33 410.5h8.34M297.5 406.33v8.34M321.33 416.5h8.34M325.5 412.33v8.34M306.33 414.5h8.34M310.5 410.33v8.34M328.33 409.5h8.34M332.5 405.33v8.34M324.33 433.5h8.34M328.5 429.33v8.34M299.33 421.5h8.34M303.5 417.33v8.34M322.33 411.5h8.34M326.5 407.33v8.34M323.33 416.5h8.34M327.5 412.33v8.34M325.33 410.5h8.34M329.5 406.33v8.34M295.33 426.5h8.34M299.5 422.33v8.34M327.33 428.5h8.34M331.5 424.33v8.34M329.33 421.5h8.34M333.5 417.33v8.34M328.33 400.5h8.34M332.5 396.33v8.34M311.33 410.5h8.34M315.5 406.33v8.34M325.33 408.5h8.34M329.5 404.33v8.34M287.33 400.5h8.34M291.5 396.33v8.34M301.33 425.5h8.34M305.5 421.33v8.34M320.33 408.5h8.34M324.5 404.33v8.34M316.33 405.5h8.34M320.5 401.33v8.34M311.33 413.5h8.34M315.5 409.33v8.34M307.33 431.5h8.34M311.5 427.33v8.34M304.33 417.5h8.34M308.5 413.33v8.34M314.33 405.5h8.34M318.5 401.33v8.34M303.33 411.5h8.34M307.5 407.33v8.34M304.33 423.5h8.34M308.5 419.33v8.34M300.33 430.5h8.34M304.5 426.33v8.34M311.33 419.5h8.34M315.5 415.33v8.34M300.33 403.5h8.34M304.5 399.33v8.34M300.33 402.5h8.34M304.5 398.33v8.34M313.33 407.5h8.34M317.5 403.33v8.34M309.33 402.5h8.34M313.5 398.33v8.34M300.33 405.5h8.34M304.5 401.33v8.34M296.33 410.5h8.34M300.5 406.33v8.34M307.33 404.5h8.34M311.5 400.33v8.34M309.33 405.5h8.34M313.5 401.33v8.34M319.33 415.5h8.34M323.5 411.33v8.34M325.33 425.5h8.34M329.5 421.33v8.34M331.33 430.5h8.34M335.5 426.33v8.34M318.33 418.5h8.34M322.5 414.33v8.34M298.33 415.5h8.34M302.5 411.33v8.34M327.33 428.5h8.34M331.5 424.33v8.34M298.33 400.5h8.34M302.5 396.33v8.34M304.33 413.5h8.34M308.5 409.33v8.34M311.33 427.5h8.34M315.5 423.33v8.34M328.33 428.5h8.34M332.5 424.33v8.34M301.33 430.5h8.34M305.5 426.33v8.34M333.33 419.5h8.34M337.5 415.33v8.34M299.33 413.5h8.34M303.5 409.33v8.34M296.33 419.5h8.34M300.5 415.33v8.34M328.33 422.5h8.34M332.5 418.33v8.34M292.33 417.5h8.34M296.5 413.33v8.34M325.33 425.5h8.34M329.5 421.33v8.34M341.33 405.5h8.34M345.5 401.33v8.34M293.33 400.5h8.34M297.5 396.33v8.34M303.33 427.5h8.34M307.5 423.33v8.34M317.33 428.5h8.34M321.5 424.33v8.34M318.33 424.5h8.34M322.5 420.33v8.34M321.33 417.5h8.34M325.5 413.33v8.34M302.33 426.5h8.34M306.5 422.33v8.34M288.33 412.5h8.34M292.5 408.33v8.34M312.33 411.5h8.34M316.5 407.33v8.34M322.33 417.5h8.34M326.5 413.33v8.34M298.33 412.5h8.34M302.5 408.33v8.34M305.33 432.5h8.34M309.5 428.33v8.34M351.33 424.5h8.34M355.5 420.33v8.34M308.33 428.5h8.34M312.5 424.33v8.34M310.33 412.5h8.34M314.5 408.33v8.34M290.33 415.5h8.34M294.5 411.33v8.34M319.33 428.5h8.34M323.5 424.33v8.34M332.33 405.5h8.34M336.5 401.33v8.34M317.33 431.5h8.34M321.5 427.33v8.34M332.33 425.5h8.34M336.5 421.33v8.34M326.33 430.5h8.34M330.5 426.33v8.34M289.33 432.5h8.34M293.5 428.33v8.34M332.33 407.5h8.34M336.5 403.33v8.34M329.33 424.5h8.34M333.5 420.33v8.34M342.33 420.5h8.34M346.5 416.33v8.34M330.33 421.5h8.34M334.5 417.33v8.34M304.33 403.5h8.34M308.5 399.33v8.34M303.33 431.5h8.34M307.5 427.33v8.34M318.33 415.5h8.34M322.5 411.33v8.34M311.33 403.5h8.34M315.5 399.33v8.34M316.33 406.5h8.34M320.5 402.33v8.34M311.33 424.5h8.34M315.5 420.33v8.34M309.33 404.5h8.34M313.5 400.33v8.34M328.33 429.5h8.34M332.5 425.33v8.34M316.33 428.5h8.34M320.5 424.33v8.34M317.33 409.5h8.34M321.5 405.33v8.34M309.33 417.5h8.34M313.5 413.33v8.34M278.33 427.5h8.34M282.5 423.33v8.34M302.33 413.5h8.34M306.5 409.33v8.34M301.33 416.5h8.34M305.5 412.33v8.34M320.33 408.5h8.34M324.5 404.33v8.34M334.33 431.5h8.34M338.5 427.33v8.34M296.33 425.5h8.34M300.5 421.33v8.34M309.33 408.5h8.34M313.5 404.33v8.34M303.33 430.5h8.34M307.5 426.33v8.34M317.33 416.5h8.34M321.5 412.33v8.34M321.33 426.5h8.34M325.5 422.33v8.34M322.33 430.5h8.34M326.5 426.33v8.34M306.33 416.5h8.34M310.5 412.33v8.34M317.33 422.5h8.34M321.5 418.33v8.34M304.33 417.5h8.34M308.5 413.33v8.34M303.33 424.5h8.34M307.5 420.33v8.34M298.33 407.5h8.34M302.5 403.33v8.34M293.33 425.5h8.34M297.5 421.33v8.34M309.33 406.5h8.34M313.5 402.33v8.34M314.33 418.5h8.34M318.5 414.33v8.34M294.33 417.5h8.34M298.5 413.33v8.34M297.33 418.5h8.34M301.5 414.33v8.34M301.33 402.5h8.34M305.5 398.33v8.34M291.33 404.5h8.34M295.5 400.33v8.34M308.33 417.5h8.34M312.5 413.33v8.34M308.33 404.5h8.34M312.5 400.33v8.34M325.33 411.5h8.34M329.5 407.33v8.34M320.33 416.5h8.34M324.5 412.33v8.34M318.33 401.5h8.34M322.5 397.33v8.34M312.33 401.5h8.34M316.5 397.33v8.34M312.33 411.5h8.34M316.5 407.33v8.34M307.33 403.5h8.34M311.5 399.33v8.34M343.33 431.5h8.34M347.5 427.33v8.34M296.33 411.5h8.34M300.5 407.33v8.34M301.33 411.5h8.34M305.5 407.33v8.34M302.33 412.5h8.34M306.5 408.33v8.34M298.33 406.5h8.34M302.5 402.33v8.34M301.33 433.5h8.34M305.5 429.33v8.34M328.33 429.5h8.34M332.5 425.33v8.34M305.33 401.5h8.34M309.5 397.33v8.34M309.33 419.5h8.34M313.5 415.33v8.34M316.33 405.5h8.34M320.5 401.33v8.34M317.33 427.5h8.34M321.5 423.33v8.34M311.33 405.5h8.34M315.5 401.33v8.34M309.33 405.5h8.34M313.5 401.33v8.34M306.33 401.5h8.34M310.5 397.33v8.34M313.33 420.5h8.34M317.5 416.33v8.34M302.33 417.5h8.34M306.5 413.33v8.34M314.33 402.5h8.34M318.5 398.33v8.34M282.33 412.5h8.34M286.5 408.33v8.34M292.33 433.5h8.34M296.5 429.33v8.34M300.33 400.5h8.34M304.5 396.33v8.34M311.33 402.5h8.34M315.5 398.33v8.34M319.33 415.5h8.34M323.5 411.33v8.34M323.33 405.5h8.34M327.5 401.33v8.34M339.33 424.5h8.34M343.5 420.33v8.34M323.33 425.5h8.34M327.5 421.33v8.34M337.33 414.5h8.34M341.5 410.33v8.34M309.33 427.5h8.34M313.5 423.33v8.34M305.33 426.5h8.34M309.5 422.33v8.34M310.33 430.5h8.34M314.5 426.33v8.34M317.33 428.5h8.34M321.5 424.33v8.34M280.33 432.5h8.34M284.5 428.33v8.34M302.33 411.5h8.34M306.5 407.33v8.34M311.33 420.5h8.34M315.5 416.33v8.34M314.33 433.5h8.34M318.5 429.33v8.34M288.33 417.5h8.34M292.5 413.33v8.34M311.33 401.5h8.34M315.5 397.33v8.34M311.33 402.5h8.34M315.5 398.33v8.34M310.33 426.5h8.34M314.5 422.33v8.34M323.33 432.5h8.34M327.5 428.33v8.34M310.33 416.5h8.34M314.5 412.33v8.34M291.33 414.5h8.34M295.5 410.33v8.34M304.33 419.5h8.34M308.5 415.33v8.34M318.33 406.5h8.34M322.5 402.33v8.34M319.33 425.5h8.34M323.5 421.33v8.34M313.33 416.5h8.34M317.5 412.33v8.34M308.33 418.5h8.34M312.5 414.33v8.34M319.33 425.5h8.34M323.5 421.33v8.34M320.33 402.5h8.34M324.5 398.33v8.34M303.33 403.5h8.34M307.5 399.33v8.34M309.33 403.5h8.34M313.5 399.33v8.34M308.33 403.5h8.34M312.5 399.33v8.34M323.33 415.5h8.34M327.5 411.33v8.34M318.33 427.5h8.34M322.5 423.33v8.34M292.33 419.5h8.34M296.5 415.33v8.34M310.33 414.5h8.34M314.5 410.33v8.34M300.33 403.5h8.34M304.5 399.33v8.34M297.33 410.5h8.34M301.5 406.33v8.34M310.33 433.5h8.34M314.5 429.33v8.34M304.33 423.5h8.34M308.5 419.33v8.34M309.33 433.5h8.34M313.5 429.33v8.34M324.33 417.5h8.34M328.5 413.33v8.34M317.33 411.5h8.34M321.5 407.33v8.34M300.33 420.5h8.34M304.5 416.33v8.34M303.33 401.5h8.34M307.5 397.33v8.34M321.33 408.5h8.34M325.5 404.33v8.34M302.33 417.5h8.34M306.5 413.33v8.34M301.33 426.5h8.34M305.5 422.33v8.34M304.33 419.5h8.34M308.5 415.33v8.34M304.33 409.5h8.34M308.5 405.33v8.34M328.33 409.5h8.34M332.5 405.33v8.34M324.33 425.5h8.34M328.5 421.33v8.34M302.33 413.5h8.34M306.5 409.33v8.34M324.33 402.5h8.34M328.5 398.33v8.34M327.33 403.5h8.34M331.5 399.33v8.34M336.33 415.5h8.34M340.5 411.33v8.34M307.33 406.5h8.34M311.5 402.33v8.34M301.33 419.5h8.34M305.5 415.33v8.34M330.33 416.5h8.34M334.5 412.33v8.34M307.33 409.5h8.34M311.5 405.33v8.34M267.33 431.5h8.34M271.5 427.33v8.34M336.33 429.5h8.34M340.5 425.33v8.34M308.33 430.5h8.34M312.5 426.33v8.34M316.33 403.5h8.34M320.5 399.33v8.34M329.33 406.5h8.34M333.5 402.33v8.34M329.33 421.5h8.34M333.5 417.33v8.34M323.33 400.5h8.34M327.5 396.33v8.34M334.33 431.5h8.34M338.5 427.33v8.34M305.33 405.5h8.34M309.5 401.33v8.34M315.33 420.5h8.34M319.5 416.33v8.34M305.33 422.5h8.34M309.5 418.33v8.34M310.33 413.5h8.34M314.5 409.33v8.34M329.33 401.5h8.34M333.5 397.33v8.34M308.33 401.5h8.34M312.5 397.33v8.34M310.33 431.5h8.34M314.5 427.33v8.34M318.33 411.5h8.34M322.5 407.33v8.34M330.33 423.5h8.34M334.5 419.33v8.34M319.33 422.5h8.34M323.5 418.33v8.34M309.33 414.5h8.34M313.5 410.33v8.34M322.33 431.5h8.34M326.5 427.33v8.34M303.33 403.5h8.34M307.5 399.33v8.34M345.33 414.5h8.34M349.5 410.33v8.34M341.33 410.5h8.34M345.5 406.33v8.34M296.33 429.5h8.34M300.5 425.33v8.34M311.33 418.5h8.34M315.5 414.33v8.34M300.33 403.5h8.34M304.5 399.33v8.34M324.33 430.5h8.34M328.5 426.33v8.34M299.33 402.5h8.34M303.5 398.33v8.34M304.33 419.5h8.34M308.5 415.33v8.34M287.33 413.5h8.34M291.5 409.33v8.34M288.33 420.5h8.34M292.5 416.33v8.34M298.33 408.5h8.34M302.5 404.33v8.34M301.33 404.5h8.34M305.5 400.33v8.34M309.33 421.5h8.34M313.5 417.33v8.34M318.33 427.5h8.34M322.5 423.33v8.34M320.33 428.5h8.34M324.5 424.33v8.34M313.33 415.5h8.34M317.5 411.33v8.34M327.33 418.5h8.34M331.5 414.33v8.34M306.33 419.5h8.34M310.5 415.33v8.34M333.33 417.5h8.34M337.5 413.33v8.34M305.33 402.5h8.34M309.5 398.33v8.34M314.33 421.5h8.34M318.5 417.33v8.34M308.33 432.5h8.34M312.5 428.33v8.34M312.33 407.5h8.34M316.5 403.33v8.34M299.33 400.5h8.34M303.5 396.33v8.34M302.33 411.5h8.34M306.5 407.33v8.34M314.33 430.5h8.34M318.5 426.33v8.34M301.33 413.5h8.34M305.5 409.33v8.34M320.33 432.5h8.34M324.5 428.33v8.34M301.33 406.5h8.34M305.5 402.33v8.34M310.33 405.5h8.34M314.5 401.33v8.34M302.33 404.5h8.34M306.5 400.33v8.34M310.33 415.5h8.34M314.5 411.33v8.34M321.33 419.5h8.34M325.5 415.33v8.34M303.33 402.5h8.34M307.5 398.33v8.34M320.33 419.5h8.34M324.5 415.33v8.34M322.33 400.5h8.34M326.5 396.33v8.34M316.33 402.5h8.34M320.5 398.33v8.34M312.33 412.5h8.34M316.5 408.33v8.34M297.33 426.5h8.34M301.5 422.33v8.34M306.33 406.5h8.34M310.5 402.33v8.34M303.33 403.5h8.34M307.5 399.33v8.34M320.33 420.5h8.34M324.5 416.33v8.34M318.33 415.5h8.34M322.5 411.33v8.34M294.33 412.5h8.34M298.5 408.33v8.34M323.33 416.5h8.34M327.5 412.33v8.34M300.33 415.5h8.34M304.5 411.33v8.34M294.33 408.5h8.34M298.5 404.33v8.34M320.33 427.5h8.34M324.5 423.33v8.34M318.33 410.5h8.34M322.5 406.33v8.34M303.33 429.5h8.34M307.5 425.33v8.34M335.33 424.5h8.34M339.5 420.33v8.34M296.33 403.5h8.34M300.5 399.33v8.34M337.33 433.5h8.34M341.5 429.33v8.34M329.33 419.5h8.34M333.5 415.33v8.34M312.33 417.5h8.34M316.5 413.33v8.34M311.33 408.5h8.34M315.5 404.33v8.34M298.33 400.5h8.34M302.5 396.33v8.34M323.33 431.5h8.34M327.5 427.33v8.34M319.33 403.5h8.34M323.5 399.33v8.34M308.33 421.5h8.34M312.5 417.33v8.34M304.33 414.5h8.34M308.5 410.33v8.34M327.33 405.5h8.34M331.5 401.33v8.34M306.33 328.5h8.34M310.5 324.33v8.34M309.33 272.5h8.34M313.5 268.33v8.34M298.33 290.5h8.34M302.5 286.33v8.34M309.33 267.5h8.34M313.5 263.33v8.34M333.33 313.5h8.34M337.5 309.33v8.34M305.33 258.5h8.34M309.5 254.33v8.34M273.33 285.5h8.34M277.5 281.33v8.34M288.33 264.5h8.34M292.5 260.33v8.34M306.33 319.5h8.34M310.5 315.33v8.34M325.33 271.5h8.34M329.5 267.33v8.34M324.33 300.5h8.34M328.5 296.33v8.34M317.33 326.5h8.34M321.5 322.33v8.34M296.33 316.5h8.34M300.5 312.33v8.34M291.33 253.5h8.34M295.5 249.33v8.34M276.33 255.5h8.34M280.5 251.33v8.34M297.33 254.5h8.34M301.5 250.33v8.34M298.33 300.5h8.34M302.5 296.33v8.34M295.33 253.5h8.34M299.5 249.33v8.34M301.33 359.5h8.34M305.5 355.33v8.34M336.33 366.5h8.34M340.5 362.33v8.34M281.33 388.5h8.34M285.5 384.33v8.34M280.33 381.5h8.34M284.5 377.33v8.34M297.33 339.5h8.34M301.5 335.33v8.34M285.33 357.5h8.34M289.5 353.33v8.34M311.33 351.5h8.34M315.5 347.33v8.34M296.33 358.5h8.34M300.5 354.33v8.34M310.33 351.5h8.34M314.5 347.33v8.34M312.33 379.5h8.34M316.5 375.33v8.34M302.33 397.5h8.34M306.5 393.33v8.34M283.33 386.5h8.34M287.5 382.33v8.34M319.33 398.5h8.34M323.5 394.33v8.34M287.33 344.5h8.34M291.5 340.33v8.34M317.33 357.5h8.34M321.5 353.33v8.34M312.33 334.5h8.34M316.5 330.33v8.34M302.33 347.5h8.34M306.5 343.33v8.34M313.33 370.5h8.34M317.5 366.33v8.34M271.33 347.5h8.34M275.5 343.33v8.34M294.33 339.5h8.34M298.5 335.33v8.34M321.33 349.5h8.34M325.5 345.33v8.34M298.33 360.5h8.34M302.5 356.33v8.34M310.33 374.5h8.34M314.5 370.33v8.34M299.33 383.5h8.34M303.5 379.33v8.34M262.33 389.5h8.34M266.5 385.33v8.34M296.33 379.5h8.34M300.5 375.33v8.34M303.33 333.5h8.34M307.5 329.33v8.34M279.33 378.5h8.34M283.5 374.33v8.34M304.33 330.5h8.34M308.5 326.33v8.34M275.33 346.5h8.34M279.5 342.33v8.34M330.33 375.5h8.34M334.5 371.33v8.34M287.33 340.5h8.34M291.5 336.33v8.34M311.33 392.5h8.34M315.5 388.33v8.34M286.33 347.5h8.34M290.5 343.33v8.34M272.33 340.5h8.34M276.5 336.33v8.34M274.33 344.5h8.34M278.5 340.33v8.34M288.33 365.5h8.34M292.5 361.33v8.34M293.33 348.5h8.34M297.5 344.33v8.34M301.33 365.5h8.34M305.5 361.33v8.34M309.33 372.5h8.34M313.5 368.33v8.34M309.33 335.5h8.34M313.5 331.33v8.34M316.33 355.5h8.34M320.5 351.33v8.34M315.33 333.5h8.34M319.5 329.33v8.34M251.33 331.5h8.34M255.5 327.33v8.34M296.33 339.5h8.34M300.5 335.33v8.34M322.33 348.5h8.34M326.5 344.33v8.34M290.33 348.5h8.34M294.5 344.33v8.34M294.33 386.5h8.34M298.5 382.33v8.34M318.33 389.5h8.34M322.5 385.33v8.34M287.33 335.5h8.34M291.5 331.33v8.34M297.33 352.5h8.34M301.5 348.33v8.34M313.33 349.5h8.34M317.5 345.33v8.34M311.33 353.5h8.34M315.5 349.33v8.34M346.33 353.5h8.34M350.5 349.33v8.34M289.33 376.5h8.34M293.5 372.33v8.34M286.33 340.5h8.34M290.5 336.33v8.34M295.33 382.5h8.34M299.5 378.33v8.34M298.33 380.5h8.34M302.5 376.33v8.34M320.33 331.5h8.34M324.5 327.33v8.34M300.33 392.5h8.34M304.5 388.33v8.34M295.33 332.5h8.34M299.5 328.33v8.34M310.33 357.5h8.34M314.5 353.33v8.34M307.33 368.5h8.34M311.5 364.33v8.34M290.33 336.5h8.34M294.5 332.33v8.34M291.33 392.5h8.34M295.5 388.33v8.34M306.33 358.5h8.34M310.5 354.33v8.34M325.33 363.5h8.34M329.5 359.33v8.34M290.33 385.5h8.34M294.5 381.33v8.34M286.33 393.5h8.34M290.5 389.33v8.34M354.33 420.5h8.34M358.5 416.33v8.34M272.33 425.5h8.34M276.5 421.33v8.34M312.33 408.5h8.34M316.5 404.33v8.34M287.33 416.5h8.34M291.5 412.33v8.34M277.33 410.5h8.34M281.5 406.33v8.34M266.33 409.5h8.34M270.5 405.33v8.34M307.33 424.5h8.34M311.5 420.33v8.34M316.33 400.5h8.34M320.5 396.33v8.34M333.33 430.5h8.34M337.5 426.33v8.34M338.33 414.5h8.34M342.5 410.33v8.34M266.33 406.5h8.34M270.5 402.33v8.34M281.33 414.5h8.34M285.5 410.33v8.34M316.33 427.5h8.34M320.5 423.33v8.34M318.33 406.5h8.34M322.5 402.33v8.34M306.33 404.5h8.34M310.5 400.33v8.34M327.33 424.5h8.34M331.5 420.33v8.34M300.33 405.5h8.34M304.5 401.33v8.34M340.33 421.5h8.34M344.5 417.33v8.34M305.33 420.5h8.34M309.5 416.33v8.34M271.33 400.5h8.34M275.5 396.33v8.34M261.33 426.5h8.34M265.5 422.33v8.34M300.33 413.5h8.34M304.5 409.33v8.34M299.33 413.5h8.34M303.5 409.33v8.34M282.33 423.5h8.34M286.5 419.33v8.34M303.33 419.5h8.34M307.5 415.33v8.34M318.33 417.5h8.34M322.5 413.33v8.34M289.33 408.5h8.34M293.5 404.33v8.34M278.33 419.5h8.34M282.5 415.33v8.34M264.33 414.5h8.34M268.5 410.33v8.34M276.33 433.5h8.34M280.5 429.33v8.34M317.33 414.5h8.34M321.5 410.33v8.34M315.33 433.5h8.34M319.5 429.33v8.34M285.33 427.5h8.34M289.5 423.33v8.34M328.33 406.5h8.34M332.5 402.33v8.34M312.33 401.5h8.34M316.5 397.33v8.34M269.33 414.5h8.34M273.5 410.33v8.34M338.33 425.5h8.34M342.5 421.33v8.34M269.33 412.5h8.34M273.5 408.33v8.34M289.33 407.5h8.34M293.5 403.33v8.34M338.33 417.5h8.34M342.5 413.33v8.34M281.33 408.5h8.34M285.5 404.33v8.34M320.33 402.5h8.34M324.5 398.33v8.34M306.33 402.5h8.34M310.5 398.33v8.34M343.33 426.5h8.34M347.5 422.33v8.34M273.33 433.5h8.34M277.5 429.33v8.34M307.33 424.5h8.34M311.5 420.33v8.34M309.33 401.5h8.34M313.5 397.33v8.34M287.33 421.5h8.34M291.5 417.33v8.34M225.33 406.5h8.34M229.5 402.33v8.34M302.33 410.5h8.34M306.5 406.33v8.34M338.33 433.5h8.34M342.5 429.33v8.34M327.33 427.5h8.34M331.5 423.33v8.34M330.33 425.5h8.34M334.5 421.33v8.34M286.33 418.5h8.34M290.5 414.33v8.34M348.33 424.5h8.34M352.5 420.33v8.34M364.33 406.5h8.34M368.5 402.33v8.34M307.33 425.5h8.34M311.5 421.33v8.34M329.33 414.5h8.34M333.5 410.33v8.34M315.33 416.5h8.34M319.5 412.33v8.34M249.33 421.5h8.34M253.5 417.33v8.34M327.33 419.5h8.34M331.5 415.33v8.34M287.33 402.5h8.34M291.5 398.33v8.34M340.33 407.5h8.34M344.5 403.33v8.34M299.33 408.5h8.34M303.5 404.33v8.34M334.33 433.5h8.34M338.5 429.33v8.34M347.33 422.5h8.34M351.5 418.33v8.34M308.33 423.5h8.34M312.5 419.33v8.34M321.33 432.5h8.34M325.5 428.33v8.34M331.33 426.5h8.34M335.5 422.33v8.34M325.33 402.5h8.34M329.5 398.33v8.34M338.33 432.5h8.34M342.5 428.33v8.34M350.33 425.5h8.34M354.5 421.33v8.34M327.33 420.5h8.34M331.5 416.33v8.34M310.33 416.5h8.34M314.5 412.33v8.34M319.33 403.5h8.34M323.5 399.33v8.34M289.33 401.5h8.34M293.5 397.33v8.34M250.33 418.5h8.34M254.5 414.33v8.34M323.33 402.5h8.34M327.5 398.33v8.34M314.33 425.5h8.34M318.5 421.33v8.34M341.33 423.5h8.34M345.5 419.33v8.34M309.33 403.5h8.34M313.5 399.33v8.34M288.33 426.5h8.34M292.5 422.33v8.34M275.33 400.5h8.34M279.5 396.33v8.34M275.33 417.5h8.34M279.5 413.33v8.34M314.33 411.5h8.34M318.5 407.33v8.34M344.33 407.5h8.34M348.5 403.33v8.34M286.33 429.5h8.34M290.5 425.33v8.34M316.33 429.5h8.34M320.5 425.33v8.34M333.33 424.5h8.34M337.5 420.33v8.34M293.33 428.5h8.34M297.5 424.33v8.34M327.33 418.5h8.34M331.5 414.33v8.34M305.33 416.5h8.34M309.5 412.33v8.34M281.33 426.5h8.34M285.5 422.33v8.34M296.33 415.5h8.34M300.5 411.33v8.34M243.33 419.5h8.34M247.5 415.33v8.34M299.33 426.5h8.34M303.5 422.33v8.34M330.33 408.5h8.34M334.5 404.33v8.34M337.33 410.5h8.34M341.5 406.33v8.34M297.33 418.5h8.34M301.5 414.33v8.34M339.33 432.5h8.34M343.5 428.33v8.34M315.33 418.5h8.34M319.5 414.33v8.34M298.33 411.5h8.34M302.5 407.33v8.34M339.33 426.5h8.34M343.5 422.33v8.34M264.33 437.5h8.34M268.5 433.33v8.34M254.33 442.5h8.34M258.5 438.33v8.34M279.33 441.5h8.34M283.5 437.33v8.34M274.33 448.5h8.34M278.5 444.33v8.34M249.33 440.5h8.34M253.5 436.33v8.34M254.33 445.5h8.34M258.5 441.33v8.34M250.33 435.5h8.34M254.5 431.33v8.34M248.33 436.5h8.34M252.5 432.33v8.34M249.33 441.5h8.34M253.5 437.33v8.34M244.33 449.5h8.34M248.5 445.33v8.34M271.33 440.5h8.34M275.5 436.33v8.34M276.33 442.5h8.34M280.5 438.33v8.34M252.33 440.5h8.34M256.5 436.33v8.34M249.33 423.5h8.34M253.5 419.33v8.34M260.33 446.5h8.34M264.5 442.33v8.34M268.33 442.5h8.34M272.5 438.33v8.34M245.33 446.5h8.34M249.5 442.33v8.34M262.33 447.5h8.34M266.5 443.33v8.34M269.33 442.5h8.34M273.5 438.33v8.34M255.33 436.5h8.34M259.5 432.33v8.34M258.33 441.5h8.34M262.5 437.33v8.34M278.33 435.5h8.34M282.5 431.33v8.34M246.33 442.5h8.34M250.5 438.33v8.34M273.33 437.5h8.34M277.5 433.33v8.34M273.33 442.5h8.34M277.5 438.33v8.34M282.33 445.5h8.34M286.5 441.33v8.34M267.33 435.5h8.34M271.5 431.33v8.34M267.33 444.5h8.34M271.5 440.33v8.34M279.33 444.5h8.34M283.5 440.33v8.34M261.33 450.5h8.34M265.5 446.33v8.34M276.33 443.5h8.34M280.5 439.33v8.34M267.33 440.5h8.34M271.5 436.33v8.34M280.33 443.5h8.34M284.5 439.33v8.34M272.33 445.5h8.34M276.5 441.33v8.34M248.33 442.5h8.34M252.5 438.33v8.34M280.33 441.5h8.34M284.5 437.33v8.34M247.33 439.5h8.34M251.5 435.33v8.34M250.33 436.5h8.34M254.5 432.33v8.34M252.33 433.5h8.34M256.5 429.33v8.34M252.33 438.5h8.34M256.5 434.33v8.34M243.33 442.5h8.34M247.5 438.33v8.34M283.33 437.5h8.34M287.5 433.33v8.34M254.33 448.5h8.34M258.5 444.33v8.34M266.33 443.5h8.34M270.5 439.33v8.34M270.33 439.5h8.34M274.5 435.33v8.34M250.33 443.5h8.34M254.5 439.33v8.34M262.33 443.5h8.34M266.5 439.33v8.34M256.33 444.5h8.34M260.5 440.33v8.34M258.33 439.5h8.34M262.5 435.33v8.34M255.33 440.5h8.34M259.5 436.33v8.34M256.33 446.5h8.34M260.5 442.33v8.34M247.33 443.5h8.34M251.5 439.33v8.34M259.33 441.5h8.34M263.5 437.33v8.34M277.33 438.5h8.34M281.5 434.33v8.34M283.33 434.5h8.34M287.5 430.33v8.34M264.33 438.5h8.34M268.5 434.33v8.34M255.33 441.5h8.34M259.5 437.33v8.34M256.33 437.5h8.34M260.5 433.33v8.34M283.33 440.5h8.34M287.5 436.33v8.34M255.33 442.5h8.34M259.5 438.33v8.34M245.33 444.5h8.34M249.5 440.33v8.34M275.33 449.5h8.34M279.5 445.33v8.34M261.33 441.5h8.34M265.5 437.33v8.34M252.33 434.5h8.34M256.5 430.33v8.34M275.33 436.5h8.34M279.5 432.33v8.34M267.33 437.5h8.34M271.5 433.33v8.34M248.33 434.5h8.34M252.5 430.33v8.34M253.33 445.5h8.34M257.5 441.33v8.34M268.33 438.5h8.34M272.5 434.33v8.34M279.33 437.5h8.34M283.5 433.33v8.34M242.33 445.5h8.34M246.5 441.33v8.34M246.33 442.5h8.34M250.5 438.33v8.34M262.33 442.5h8.34M266.5 438.33v8.34M273.33 438.5h8.34M277.5 434.33v8.34M260.33 449.5h8.34M264.5 445.33v8.34M270.33 443.5h8.34M274.5 439.33v8.34M256.33 439.5h8.34M260.5 435.33v8.34M276.33 446.5h8.34M280.5 442.33v8.34M255.33 449.5h8.34M259.5 445.33v8.34M257.33 440.5h8.34M261.5 436.33v8.34M250.33 439.5h8.34M254.5 435.33v8.34M263.33 435.5h8.34M267.5 431.33v8.34M281.33 444.5h8.34M285.5 440.33v8.34M261.33 443.5h8.34M265.5 439.33v8.34M246.33 444.5h8.34M250.5 440.33v8.34M250.33 442.5h8.34M254.5 438.33v8.34M248.33 445.5h8.34M252.5 441.33v8.34M274.33 432.5h8.34M278.5 428.33v8.34M268.33 440.5h8.34M272.5 436.33v8.34M249.33 437.5h8.34M253.5 433.33v8.34M264.33 440.5h8.34M268.5 436.33v8.34M255.33 445.5h8.34M259.5 441.33v8.34M283.33 448.5h8.34M287.5 444.33v8.34M273.33 445.5h8.34M277.5 441.33v8.34M250.33 439.5h8.34M254.5 435.33v8.34M276.33 433.5h8.34M280.5 429.33v8.34M277.33 438.5h8.34M281.5 434.33v8.34M281.33 448.5h8.34M285.5 444.33v8.34M243.33 433.5h8.34M247.5 429.33v8.34M282.33 443.5h8.34M286.5 439.33v8.34M255.33 445.5h8.34M259.5 441.33v8.34M279.33 440.5h8.34M283.5 436.33v8.34M273.33 448.5h8.34M277.5 444.33v8.34M262.33 441.5h8.34M266.5 437.33v8.34M250.33 436.5h8.34M254.5 432.33v8.34M265.33 447.5h8.34M269.5 443.33v8.34M271.33 444.5h8.34M275.5 440.33v8.34M267.33 444.5h8.34M271.5 440.33v8.34M250.33 440.5h8.34M254.5 436.33v8.34M275.33 440.5h8.34M279.5 436.33v8.34M256.33 446.5h8.34M260.5 442.33v8.34M273.33 440.5h8.34M277.5 436.33v8.34M277.33 441.5h8.34M281.5 437.33v8.34M281.33 449.5h8.34M285.5 445.33v8.34M260.33 439.5h8.34M264.5 435.33v8.34M266.33 441.5h8.34M270.5 437.33v8.34M253.33 446.5h8.34M257.5 442.33v8.34M250.33 446.5h8.34M254.5 442.33v8.34M257.33 434.5h8.34M261.5 430.33v8.34M242.33 439.5h8.34M246.5 435.33v8.34M264.33 438.5h8.34M268.5 434.33v8.34M244.33 438.5h8.34M248.5 434.33v8.34M257.33 433.5h8.34M261.5 429.33v8.34M258.33 445.5h8.34M262.5 441.33v8.34M247.33 439.5h8.34M251.5 435.33v8.34M279.33 443.5h8.34M283.5 439.33v8.34M280.33 440.5h8.34M284.5 436.33v8.34M262.33 440.5h8.34M266.5 436.33v8.34M273.33 442.5h8.34M277.5 438.33v8.34M272.33 443.5h8.34M276.5 439.33v8.34M255.33 445.5h8.34M259.5 441.33v8.34M277.33 437.5h8.34M281.5 433.33v8.34M263.33 444.5h8.34M267.5 440.33v8.34M275.33 438.5h8.34M279.5 434.33v8.34M253.33 445.5h8.34M257.5 441.33v8.34M268.33 444.5h8.34M272.5 440.33v8.34M249.33 448.5h8.34M253.5 444.33v8.34M265.33 447.5h8.34M269.5 443.33v8.34M257.33 443.5h8.34M261.5 439.33v8.34M242.33 436.5h8.34M246.5 432.33v8.34M256.33 436.5h8.34M260.5 432.33v8.34M258.33 440.5h8.34M262.5 436.33v8.34M282.33 444.5h8.34M286.5 440.33v8.34M275.33 440.5h8.34M279.5 436.33v8.34M256.33 447.5h8.34M260.5 443.33v8.34M262.33 444.5h8.34M266.5 440.33v8.34M279.33 443.5h8.34M283.5 439.33v8.34M279.33 443.5h8.34M283.5 439.33v8.34M271.33 442.5h8.34M275.5 438.33v8.34M283.33 447.5h8.34M287.5 443.33v8.34M282.33 445.5h8.34M286.5 441.33v8.34M283.33 442.5h8.34M287.5 438.33v8.34M252.33 440.5h8.34M256.5 436.33v8.34M279.33 445.5h8.34M283.5 441.33v8.34M253.33 434.5h8.34M257.5 430.33v8.34M259.33 442.5h8.34M263.5 438.33v8.34M266.33 440.5h8.34M270.5 436.33v8.34M242.33 436.5h8.34M246.5 432.33v8.34M281.33 437.5h8.34M285.5 433.33v8.34M270.33 444.5h8.34M274.5 440.33v8.34M279.33 443.5h8.34M283.5 439.33v8.34M270.33 441.5h8.34M274.5 437.33v8.34M249.33 443.5h8.34M253.5 439.33v8.34M248.33 437.5h8.34M252.5 433.33v8.34M263.33 438.5h8.34M267.5 434.33v8.34M255.33 436.5h8.34M259.5 432.33v8.34M263.33 444.5h8.34M267.5 440.33v8.34M248.33 446.5h8.34M252.5 442.33v8.34M264.33 441.5h8.34M268.5 437.33v8.34M278.33 443.5h8.34M282.5 439.33v8.34M244.33 438.5h8.34M248.5 434.33v8.34M277.33 436.5h8.34M281.5 432.33v8.34M246.33 448.5h8.34M250.5 444.33v8.34M272.33 439.5h8.34M276.5 435.33v8.34M272.33 446.5h8.34M276.5 442.33v8.34M263.33 439.5h8.34M267.5 435.33v8.34M266.33 440.5h8.34M270.5 436.33v8.34M255.33 444.5h8.34M259.5 440.33v8.34M252.33 439.5h8.34M256.5 435.33v8.34M275.33 442.5h8.34M279.5 438.33v8.34M274.33 448.5h8.34M278.5 444.33v8.34M246.33 438.5h8.34M250.5 434.33v8.34M277.33 432.5h8.34M281.5 428.33v8.34M265.33 445.5h8.34M269.5 441.33v8.34M273.33 436.5h8.34M277.5 432.33v8.34M274.33 441.5h8.34M278.5 437.33v8.34M275.33 438.5h8.34M279.5 434.33v8.34M247.33 439.5h8.34M251.5 435.33v8.34M262.33 441.5h8.34M266.5 437.33v8.34M281.33 449.5h8.34M285.5 445.33v8.34M303.33 440.5h8.34M307.5 436.33v8.34M309.33 443.5h8.34M313.5 439.33v8.34M325.33 445.5h8.34M329.5 441.33v8.34M311.33 447.5h8.34M315.5 443.33v8.34M323.33 439.5h8.34M327.5 435.33v8.34M329.33 447.5h8.34M333.5 443.33v8.34M316.33 422.5h8.34M320.5 418.33v8.34M290.33 443.5h8.34M294.5 439.33v8.34M302.33 451.5h8.34M306.5 447.33v8.34M310.33 436.5h8.34M314.5 432.33v8.34M317.33 446.5h8.34M321.5 442.33v8.34M300.33 434.5h8.34M304.5 430.33v8.34M326.33 447.5h8.34M330.5 443.33v8.34M299.33 451.5h8.34M303.5 447.33v8.34M310.33 435.5h8.34M314.5 431.33v8.34M280.33 439.5h8.34M284.5 435.33v8.34M302.33 448.5h8.34M306.5 444.33v8.34M303.33 447.5h8.34M307.5 443.33v8.34M300.33 435.5h8.34M304.5 431.33v8.34M314.33 434.5h8.34M318.5 430.33v8.34M314.33 445.5h8.34M318.5 441.33v8.34M308.33 449.5h8.34M312.5 445.33v8.34M315.33 449.5h8.34M319.5 445.33v8.34M292.33 436.5h8.34M296.5 432.33v8.34M331.33 442.5h8.34M335.5 438.33v8.34M337.33 444.5h8.34M341.5 440.33v8.34M320.33 450.5h8.34M324.5 446.33v8.34M318.33 430.5h8.34M322.5 426.33v8.34M330.33 441.5h8.34M334.5 437.33v8.34M297.33 439.5h8.34M301.5 435.33v8.34M303.33 448.5h8.34M307.5 444.33v8.34M305.33 438.5h8.34M309.5 434.33v8.34M308.33 445.5h8.34M312.5 441.33v8.34M308.33 452.5h8.34M312.5 448.33v8.34M318.33 437.5h8.34M322.5 433.33v8.34M330.33 440.5h8.34M334.5 436.33v8.34M326.33 432.5h8.34M330.5 428.33v8.34M287.33 451.5h8.34M291.5 447.33v8.34M328.33 436.5h8.34M332.5 432.33v8.34M306.33 439.5h8.34M310.5 435.33v8.34M292.33 448.5h8.34M296.5 444.33v8.34M318.33 439.5h8.34M322.5 435.33v8.34M322.33 440.5h8.34M326.5 436.33v8.34M316.33 442.5h8.34M320.5 438.33v8.34M314.33 452.5h8.34M318.5 448.33v8.34M314.33 446.5h8.34M318.5 442.33v8.34M291.33 440.5h8.34M295.5 436.33v8.34M321.33 454.5h8.34M325.5 450.33v8.34M326.33 443.5h8.34M330.5 439.33v8.34M299.33 449.5h8.34M303.5 445.33v8.34M303.33 443.5h8.34M307.5 439.33v8.34M299.33 449.5h8.34M303.5 445.33v8.34M301.33 438.5h8.34M305.5 434.33v8.34M306.33 437.5h8.34M310.5 433.33v8.34M315.33 443.5h8.34M319.5 439.33v8.34M294.33 444.5h8.34M298.5 440.33v8.34M308.33 447.5h8.34M312.5 443.33v8.34M316.33 451.5h8.34M320.5 447.33v8.34M323.33 441.5h8.34M327.5 437.33v8.34M323.33 444.5h8.34M327.5 440.33v8.34M309.33 441.5h8.34M313.5 437.33v8.34M334.33 436.5h8.34M338.5 432.33v8.34M311.33 447.5h8.34M315.5 443.33v8.34M308.33 445.5h8.34M312.5 441.33v8.34M320.33 434.5h8.34M324.5 430.33v8.34M327.33 444.5h8.34M331.5 440.33v8.34M285.33 431.5h8.34M289.5 427.33v8.34M316.33 442.5h8.34M320.5 438.33v8.34M305.33 444.5h8.34M309.5 440.33v8.34M309.33 446.5h8.34M313.5 442.33v8.34M298.33 452.5h8.34M302.5 448.33v8.34M332.33 434.5h8.34M336.5 430.33v8.34M299.33 439.5h8.34M303.5 435.33v8.34M333.33 437.5h8.34M337.5 433.33v8.34M316.33 438.5h8.34M320.5 434.33v8.34M315.33 426.5h8.34M319.5 422.33v8.34M324.33 443.5h8.34M328.5 439.33v8.34M291.33 439.5h8.34M295.5 435.33v8.34M328.33 446.5h8.34M332.5 442.33v8.34M339.33 439.5h8.34M343.5 435.33v8.34M335.33 444.5h8.34M339.5 440.33v8.34M311.33 435.5h8.34M315.5 431.33v8.34M324.33 427.5h8.34M328.5 423.33v8.34M333.33 455.5h8.34M337.5 451.33v8.34M312.33 446.5h8.34M316.5 442.33v8.34M304.33 431.5h8.34M308.5 427.33v8.34M315.33 438.5h8.34M319.5 434.33v8.34M288.33 452.5h8.34M292.5 448.33v8.34M292.33 441.5h8.34M296.5 437.33v8.34M320.33 442.5h8.34M324.5 438.33v8.34M302.33 450.5h8.34M306.5 446.33v8.34M337.33 444.5h8.34M341.5 440.33v8.34M308.33 444.5h8.34M312.5 440.33v8.34M294.33 437.5h8.34M298.5 433.33v8.34M323.33 448.5h8.34M327.5 444.33v8.34M297.33 444.5h8.34M301.5 440.33v8.34M316.33 439.5h8.34M320.5 435.33v8.34M321.33 442.5h8.34M325.5 438.33v8.34M304.33 444.5h8.34M308.5 440.33v8.34M302.33 442.5h8.34M306.5 438.33v8.34M313.33 439.5h8.34M317.5 435.33v8.34M317.33 449.5h8.34M321.5 445.33v8.34M321.33 443.5h8.34M325.5 439.33v8.34M305.33 432.5h8.34M309.5 428.33v8.34M312.33 452.5h8.34M316.5 448.33v8.34M317.33 443.5h8.34M321.5 439.33v8.34M340.33 442.5h8.34M344.5 438.33v8.34M314.33 444.5h8.34M318.5 440.33v8.34M304.33 447.5h8.34M308.5 443.33v8.34M294.33 441.5h8.34M298.5 437.33v8.34M315.33 441.5h8.34M319.5 437.33v8.34M284.33 452.5h8.34M288.5 448.33v8.34M316.33 437.5h8.34M320.5 433.33v8.34M296.33 447.5h8.34M300.5 443.33v8.34M314.33 443.5h8.34M318.5 439.33v8.34M298.33 429.5h8.34M302.5 425.33v8.34M317.33 438.5h8.34M321.5 434.33v8.34M308.33 449.5h8.34M312.5 445.33v8.34M320.33 441.5h8.34M324.5 437.33v8.34M326.33 455.5h8.34M330.5 451.33v8.34M326.33 438.5h8.34M330.5 434.33v8.34M303.33 432.5h8.34M307.5 428.33v8.34M310.33 435.5h8.34M314.5 431.33v8.34M306.33 445.5h8.34M310.5 441.33v8.34M294.33 449.5h8.34M298.5 445.33v8.34M313.33 447.5h8.34M317.5 443.33v8.34M320.33 441.5h8.34M324.5 437.33v8.34M325.33 453.5h8.34M329.5 449.33v8.34M337.33 448.5h8.34M341.5 444.33v8.34M288.33 453.5h8.34M292.5 449.33v8.34M312.33 454.5h8.34M316.5 450.33v8.34M331.33 435.5h8.34M335.5 431.33v8.34M313.33 437.5h8.34M317.5 433.33v8.34M311.33 437.5h8.34M315.5 433.33v8.34M301.33 442.5h8.34M305.5 438.33v8.34M318.33 443.5h8.34M322.5 439.33v8.34M335.33 449.5h8.34M339.5 445.33v8.34M330.33 451.5h8.34M334.5 447.33v8.34M318.33 438.5h8.34M322.5 434.33v8.34M313.33 437.5h8.34M317.5 433.33v8.34M311.33 447.5h8.34M315.5 443.33v8.34M299.33 446.5h8.34M303.5 442.33v8.34M287.33 443.5h8.34M291.5 439.33v8.34M331.33 440.5h8.34M335.5 436.33v8.34M337.33 435.5h8.34M341.5 431.33v8.34M322.33 439.5h8.34M326.5 435.33v8.34M315.33 439.5h8.34M319.5 435.33v8.34M343.33 448.5h8.34M347.5 444.33v8.34M291.33 440.5h8.34M295.5 436.33v8.34M285.33 445.5h8.34M289.5 441.33v8.34M291.33 442.5h8.34M295.5 438.33v8.34M331.33 454.5h8.34M335.5 450.33v8.34M306.33 446.5h8.34M310.5 442.33v8.34M286.33 450.5h8.34M290.5 446.33v8.34M285.33 448.5h8.34M289.5 444.33v8.34M326.33 447.5h8.34M330.5 443.33v8.34M328.33 447.5h8.34M332.5 443.33v8.34M337.33 446.5h8.34M341.5 442.33v8.34M340.33 431.5h8.34M344.5 427.33v8.34M322.33 437.5h8.34M326.5 433.33v8.34M307.33 447.5h8.34M311.5 443.33v8.34M309.33 449.5h8.34M313.5 445.33v8.34M320.33 442.5h8.34M324.5 438.33v8.34M310.33 434.5h8.34M314.5 430.33v8.34M298.33 449.5h8.34M302.5 445.33v8.34M323.33 437.5h8.34M327.5 433.33v8.34M318.33 442.5h8.34M322.5 438.33v8.34M307.33 432.5h8.34M311.5 428.33v8.34M325.33 440.5h8.34M329.5 436.33v8.34M332.33 445.5h8.34M336.5 441.33v8.34M299.33 443.5h8.34M303.5 439.33v8.34M329.33 450.5h8.34M333.5 446.33v8.34M296.33 449.5h8.34M300.5 445.33v8.34M308.33 443.5h8.34M312.5 439.33v8.34M330.33 435.5h8.34M334.5 431.33v8.34M315.33 444.5h8.34M319.5 440.33v8.34M292.33 437.5h8.34M296.5 433.33v8.34M307.33 433.5h8.34M311.5 429.33v8.34M292.33 436.5h8.34M296.5 432.33v8.34M313.33 448.5h8.34M317.5 444.33v8.34M311.33 436.5h8.34M315.5 432.33v8.34M322.33 450.5h8.34M326.5 446.33v8.34M326.33 448.5h8.34M330.5 444.33v8.34M310.33 450.5h8.34M314.5 446.33v8.34M332.33 445.5h8.34M336.5 441.33v8.34M295.33 443.5h8.34M299.5 439.33v8.34M310.33 447.5h8.34M314.5 443.33v8.34M296.33 447.5h8.34M300.5 443.33v8.34M315.33 433.5h8.34M319.5 429.33v8.34M298.33 445.5h8.34M302.5 441.33v8.34M298.33 435.5h8.34M302.5 431.33v8.34M324.33 448.5h8.34M328.5 444.33v8.34M299.33 440.5h8.34M303.5 436.33v8.34M310.33 448.5h8.34M314.5 444.33v8.34M319.33 443.5h8.34M323.5 439.33v8.34M288.33 440.5h8.34M292.5 436.33v8.34M315.33 439.5h8.34M319.5 435.33v8.34M316.33 453.5h8.34M320.5 449.33v8.34M293.33 439.5h8.34M297.5 435.33v8.34M307.33 436.5h8.34M311.5 432.33v8.34M307.33 442.5h8.34M311.5 438.33v8.34M333.33 444.5h8.34M337.5 440.33v8.34M317.33 441.5h8.34M321.5 437.33v8.34M306.33 444.5h8.34M310.5 440.33v8.34M292.33 438.5h8.34M296.5 434.33v8.34M312.33 447.5h8.34M316.5 443.33v8.34M310.33 437.5h8.34M314.5 433.33v8.34M300.33 443.5h8.34M304.5 439.33v8.34M315.33 449.5h8.34M319.5 445.33v8.34M323.33 433.5h8.34M327.5 429.33v8.34M306.33 438.5h8.34M310.5 434.33v8.34M343.33 455.5h8.34M347.5 451.33v8.34M326.33 442.5h8.34M330.5 438.33v8.34M299.33 441.5h8.34M303.5 437.33v8.34M312.33 444.5h8.34M316.5 440.33v8.34M304.33 450.5h8.34M308.5 446.33v8.34M335.33 446.5h8.34M339.5 442.33v8.34M311.33 435.5h8.34M315.5 431.33v8.34M337.33 444.5h8.34M341.5 440.33v8.34M309.33 445.5h8.34M313.5 441.33v8.34M302.33 429.5h8.34M306.5 425.33v8.34M302.33 447.5h8.34M306.5 443.33v8.34M310.33 446.5h8.34M314.5 442.33v8.34M304.33 446.5h8.34M308.5 442.33v8.34M313.33 443.5h8.34M317.5 439.33v8.34M322.33 442.5h8.34M326.5 438.33v8.34M330.33 443.5h8.34M334.5 439.33v8.34M294.33 454.5h8.34M298.5 450.33v8.34M307.33 441.5h8.34M311.5 437.33v8.34M296.33 441.5h8.34M300.5 437.33v8.34M305.33 443.5h8.34M309.5 439.33v8.34M321.33 449.5h8.34M325.5 445.33v8.34M314.33 449.5h8.34M318.5 445.33v8.34M311.33 450.5h8.34M315.5 446.33v8.34M325.33 443.5h8.34M329.5 439.33v8.34M314.33 450.5h8.34M318.5 446.33v8.34M338.33 430.5h8.34M342.5 426.33v8.34M313.33 449.5h8.34M317.5 445.33v8.34M332.33 433.5h8.34M336.5 429.33v8.34M309.33 430.5h8.34M313.5 426.33v8.34M302.33 450.5h8.34M306.5 446.33v8.34M326.33 443.5h8.34M330.5 439.33v8.34M300.33 438.5h8.34M304.5 434.33v8.34M315.33 448.5h8.34M319.5 444.33v8.34M294.33 454.5h8.34M298.5 450.33v8.34M328.33 451.5h8.34M332.5 447.33v8.34M342.33 438.5h8.34M346.5 434.33v8.34M313.33 445.5h8.34M317.5 441.33v8.34M306.33 440.5h8.34M310.5 436.33v8.34M304.33 443.5h8.34M308.5 439.33v8.34M332.33 453.5h8.34M336.5 449.33v8.34M328.33 440.5h8.34M332.5 436.33v8.34M323.33 442.5h8.34M327.5 438.33v8.34M308.33 452.5h8.34M312.5 448.33v8.34M317.33 432.5h8.34M321.5 428.33v8.34M299.33 444.5h8.34M303.5 440.33v8.34M287.33 455.5h8.34M291.5 451.33v8.34M297.33 450.5h8.34M301.5 446.33v8.34M333.33 448.5h8.34M337.5 444.33v8.34M285.33 439.5h8.34M289.5 435.33v8.34M301.33 443.5h8.34M305.5 439.33v8.34M302.33 446.5h8.34M306.5 442.33v8.34M296.33 446.5h8.34M300.5 442.33v8.34M330.33 438.5h8.34M334.5 434.33v8.34M329.33 438.5h8.34M333.5 434.33v8.34M313.33 444.5h8.34M317.5 440.33v8.34M301.33 444.5h8.34M305.5 440.33v8.34M302.33 433.5h8.34M306.5 429.33v8.34M328.33 449.5h8.34M332.5 445.33v8.34M313.33 435.5h8.34M317.5 431.33v8.34M312.33 440.5h8.34M316.5 436.33v8.34M309.33 453.5h8.34M313.5 449.33v8.34M333.33 450.5h8.34M337.5 446.33v8.34M312.33 430.5h8.34M316.5 426.33v8.34M328.33 450.5h8.34M332.5 446.33v8.34M309.33 434.5h8.34M313.5 430.33v8.34M320.33 446.5h8.34M324.5 442.33v8.34M305.33 453.5h8.34M309.5 449.33v8.34M317.33 451.5h8.34M321.5 447.33v8.34M327.33 441.5h8.34M331.5 437.33v8.34M298.33 451.5h8.34M302.5 447.33v8.34M287.33 449.5h8.34M291.5 445.33v8.34M324.33 451.5h8.34M328.5 447.33v8.34M320.33 451.5h8.34M324.5 447.33v8.34M304.33 438.5h8.34M308.5 434.33v8.34M313.33 438.5h8.34M317.5 434.33v8.34M292.33 445.5h8.34M296.5 441.33v8.34M321.33 444.5h8.34M325.5 440.33v8.34M309.33 448.5h8.34M313.5 444.33v8.34M301.33 437.5h8.34M305.5 433.33v8.34M310.33 445.5h8.34M314.5 441.33v8.34M308.33 448.5h8.34M312.5 444.33v8.34M320.33 446.5h8.34M324.5 442.33v8.34M305.33 444.5h8.34M309.5 440.33v8.34M317.33 445.5h8.34M321.5 441.33v8.34M319.33 443.5h8.34M323.5 439.33v8.34M311.33 443.5h8.34M315.5 439.33v8.34M331.33 441.5h8.34M335.5 437.33v8.34M300.33 453.5h8.34M304.5 449.33v8.34M331.33 439.5h8.34M335.5 435.33v8.34M290.33 443.5h8.34M294.5 439.33v8.34M335.33 436.5h8.34M339.5 432.33v8.34M330.33 452.5h8.34M334.5 448.33v8.34M318.33 438.5h8.34M322.5 434.33v8.34M305.33 443.5h8.34M309.5 439.33v8.34M333.33 449.5h8.34M337.5 445.33v8.34M321.33 440.5h8.34M325.5 436.33v8.34M303.33 442.5h8.34M307.5 438.33v8.34M322.33 446.5h8.34M326.5 442.33v8.34M316.33 443.5h8.34M320.5 439.33v8.34M328.33 442.5h8.34M332.5 438.33v8.34M291.33 435.5h8.34M295.5 431.33v8.34M294.33 443.5h8.34M298.5 439.33v8.34M329.33 434.5h8.34M333.5 430.33v8.34M315.33 446.5h8.34M319.5 442.33v8.34M321.33 445.5h8.34M325.5 441.33v8.34M293.33 440.5h8.34M297.5 436.33v8.34M289.33 444.5h8.34M293.5 440.33v8.34M286.33 444.5h8.34M290.5 440.33v8.34M323.33 440.5h8.34M327.5 436.33v8.34M324.33 436.5h8.34M328.5 432.33v8.34M339.33 450.5h8.34M343.5 446.33v8.34M315.33 442.5h8.34M319.5 438.33v8.34M292.33 444.5h8.34M296.5 440.33v8.34M319.33 453.5h8.34M323.5 449.33v8.34M315.33 439.5h8.34M319.5 435.33v8.34M311.33 453.5h8.34M315.5 449.33v8.34M292.33 446.5h8.34M296.5 442.33v8.34M294.33 440.5h8.34M298.5 436.33v8.34M325.33 440.5h8.34M329.5 436.33v8.34M324.33 450.5h8.34M328.5 446.33v8.34M308.33 452.5h8.34M312.5 448.33v8.34M331.33 434.5h8.34M335.5 430.33v8.34M319.33 444.5h8.34M323.5 440.33v8.34M336.33 437.5h8.34M340.5 433.33v8.34M313.33 440.5h8.34M317.5 436.33v8.34M327.33 450.5h8.34M331.5 446.33v8.34M305.33 449.5h8.34M309.5 445.33v8.34M329.33 451.5h8.34M333.5 447.33v8.34M330.33 444.5h8.34M334.5 440.33v8.34M291.33 445.5h8.34M295.5 441.33v8.34M332.33 431.5h8.34M336.5 427.33v8.34M298.33 435.5h8.34M302.5 431.33v8.34M321.33 450.5h8.34M325.5 446.33v8.34M326.33 442.5h8.34M330.5 438.33v8.34M323.33 445.5h8.34M327.5 441.33v8.34M308.33 430.5h8.34M312.5 426.33v8.34M301.33 445.5h8.34M305.5 441.33v8.34M300.33 443.5h8.34M304.5 439.33v8.34M340.33 440.5h8.34M344.5 436.33v8.34M313.33 445.5h8.34M317.5 441.33v8.34M314.33 448.5h8.34M318.5 444.33v8.34M311.33 440.5h8.34M315.5 436.33v8.34M326.33 446.5h8.34M330.5 442.33v8.34M307.33 437.5h8.34M311.5 433.33v8.34M343.33 432.5h8.34M347.5 428.33v8.34M295.33 445.5h8.34M299.5 441.33v8.34M320.33 447.5h8.34M324.5 443.33v8.34M286.33 448.5h8.34M290.5 444.33v8.34M326.33 448.5h8.34M330.5 444.33v8.34M289.33 447.5h8.34M293.5 443.33v8.34M297.33 443.5h8.34M301.5 439.33v8.34M305.33 435.5h8.34M309.5 431.33v8.34M312.33 437.5h8.34M316.5 433.33v8.34M308.33 442.5h8.34M312.5 438.33v8.34M335.33 440.5h8.34M339.5 436.33v8.34M309.33 455.5h8.34M313.5 451.33v8.34M284.33 431.5h8.34M288.5 427.33v8.34M290.33 440.5h8.34M294.5 436.33v8.34M304.33 435.5h8.34M308.5 431.33v8.34M294.33 440.5h8.34M298.5 436.33v8.34M323.33 447.5h8.34M327.5 443.33v8.34M296.33 445.5h8.34M300.5 441.33v8.34M296.33 442.5h8.34M300.5 438.33v8.34M318.33 435.5h8.34M322.5 431.33v8.34M312.33 454.5h8.34M316.5 450.33v8.34M315.33 443.5h8.34M319.5 439.33v8.34M300.33 445.5h8.34M304.5 441.33v8.34M303.33 443.5h8.34M307.5 439.33v8.34M322.33 435.5h8.34M326.5 431.33v8.34M304.33 450.5h8.34M308.5 446.33v8.34M315.33 453.5h8.34M319.5 449.33v8.34M306.33 440.5h8.34M310.5 436.33v8.34M313.33 442.5h8.34M317.5 438.33v8.34M317.33 443.5h8.34M321.5 439.33v8.34M283.33 448.5h8.34M287.5 444.33v8.34M309.33 443.5h8.34M313.5 439.33v8.34M317.33 430.5h8.34M321.5 426.33v8.34M301.33 442.5h8.34M305.5 438.33v8.34M310.33 443.5h8.34M314.5 439.33v8.34M333.33 441.5h8.34M337.5 437.33v8.34M317.33 448.5h8.34M321.5 444.33v8.34M322.33 453.5h8.34M326.5 449.33v8.34M305.33 447.5h8.34M309.5 443.33v8.34M329.33 441.5h8.34M333.5 437.33v8.34M338.33 443.5h8.34M342.5 439.33v8.34M317.33 449.5h8.34M321.5 445.33v8.34M295.33 448.5h8.34M299.5 444.33v8.34M303.33 439.5h8.34M307.5 435.33v8.34M329.33 447.5h8.34M333.5 443.33v8.34M302.33 438.5h8.34M306.5 434.33v8.34M291.33 446.5h8.34M295.5 442.33v8.34M296.33 435.5h8.34M300.5 431.33v8.34M305.33 442.5h8.34M309.5 438.33v8.34M294.33 441.5h8.34M298.5 437.33v8.34M303.33 436.5h8.34M307.5 432.33v8.34M318.33 447.5h8.34M322.5 443.33v8.34M311.33 443.5h8.34M315.5 439.33v8.34M293.33 425.5h8.34M297.5 421.33v8.34M304.33 425.5h8.34M308.5 421.33v8.34M326.33 426.5h8.34M330.5 422.33v8.34M299.33 435.5h8.34M303.5 431.33v8.34M313.33 446.5h8.34M317.5 442.33v8.34M310.33 444.5h8.34M314.5 440.33v8.34M327.33 451.5h8.34M331.5 447.33v8.34M313.33 442.5h8.34M317.5 438.33v8.34M326.33 435.5h8.34M330.5 431.33v8.34M311.33 448.5h8.34M315.5 444.33v8.34M314.33 441.5h8.34M318.5 437.33v8.34M284.33 438.5h8.34M288.5 434.33v8.34M323.33 448.5h8.34M327.5 444.33v8.34M307.33 444.5h8.34M311.5 440.33v8.34M307.33 443.5h8.34M311.5 439.33v8.34M305.33 445.5h8.34M309.5 441.33v8.34M298.33 442.5h8.34M302.5 438.33v8.34M287.33 435.5h8.34M291.5 431.33v8.34M303.33 444.5h8.34M307.5 440.33v8.34M293.33 446.5h8.34M297.5 442.33v8.34M310.33 447.5h8.34M314.5 443.33v8.34M325.33 450.5h8.34M329.5 446.33v8.34M326.33 447.5h8.34M330.5 443.33v8.34M309.33 437.5h8.34M313.5 433.33v8.34M302.33 430.5h8.34M306.5 426.33v8.34M299.33 449.5h8.34M303.5 445.33v8.34M298.33 449.5h8.34M302.5 445.33v8.34M320.33 448.5h8.34M324.5 444.33v8.34M319.33 445.5h8.34M323.5 441.33v8.34M306.33 439.5h8.34M310.5 435.33v8.34M306.33 446.5h8.34M310.5 442.33v8.34M313.33 442.5h8.34M317.5 438.33v8.34M329.33 445.5h8.34M333.5 441.33v8.34M308.33 452.5h8.34M312.5 448.33v8.34M331.33 442.5h8.34M335.5 438.33v8.34M333.33 443.5h8.34M337.5 439.33v8.34M310.33 447.5h8.34M314.5 443.33v8.34M292.33 439.5h8.34M296.5 435.33v8.34M296.33 444.5h8.34M300.5 440.33v8.34M300.33 444.5h8.34M304.5 440.33v8.34M314.33 445.5h8.34M318.5 441.33v8.34M331.33 433.5h8.34M335.5 429.33v8.34M312.33 436.5h8.34M316.5 432.33v8.34M315.33 447.5h8.34M319.5 443.33v8.34M323.33 442.5h8.34M327.5 438.33v8.34M310.33 438.5h8.34M314.5 434.33v8.34M313.33 445.5h8.34M317.5 441.33v8.34M293.33 440.5h8.34M297.5 436.33v8.34M301.33 440.5h8.34M305.5 436.33v8.34M322.33 444.5h8.34M326.5 440.33v8.34M302.33 435.5h8.34M306.5 431.33v8.34M314.33 451.5h8.34M318.5 447.33v8.34M319.33 446.5h8.34M323.5 442.33v8.34M326.33 441.5h8.34M330.5 437.33v8.34M321.33 447.5h8.34M325.5 443.33v8.34M320.33 443.5h8.34M324.5 439.33v8.34M323.33 448.5h8.34M327.5 444.33v8.34M313.33 439.5h8.34M317.5 435.33v8.34M316.33 441.5h8.34M320.5 437.33v8.34M318.33 445.5h8.34M322.5 441.33v8.34M325.33 439.5h8.34M329.5 435.33v8.34M328.33 441.5h8.34M332.5 437.33v8.34M306.33 434.5h8.34M310.5 430.33v8.34M298.33 445.5h8.34M302.5 441.33v8.34M311.33 441.5h8.34M315.5 437.33v8.34M325.33 450.5h8.34M329.5 446.33v8.34M326.33 450.5h8.34M330.5 446.33v8.34M302.33 440.5h8.34M306.5 436.33v8.34M323.33 435.5h8.34M327.5 431.33v8.34M323.33 442.5h8.34M327.5 438.33v8.34M291.33 447.5h8.34M295.5 443.33v8.34M299.33 434.5h8.34M303.5 430.33v8.34M311.33 444.5h8.34M315.5 440.33v8.34M308.33 445.5h8.34M312.5 441.33v8.34M336.33 434.5h8.34M340.5 430.33v8.34M292.33 448.5h8.34M296.5 444.33v8.34M309.33 435.5h8.34M313.5 431.33v8.34M318.33 443.5h8.34M322.5 439.33v8.34M335.33 447.5h8.34M339.5 443.33v8.34M315.33 447.5h8.34M319.5 443.33v8.34M320.33 435.5h8.34M324.5 431.33v8.34M296.33 445.5h8.34M300.5 441.33v8.34M316.33 447.5h8.34M320.5 443.33v8.34M334.33 449.5h8.34M338.5 445.33v8.34M325.33 437.5h8.34M329.5 433.33v8.34M320.33 430.5h8.34M324.5 426.33v8.34M323.33 433.5h8.34M327.5 429.33v8.34M332.33 445.5h8.34M336.5 441.33v8.34M313.33 443.5h8.34M317.5 439.33v8.34M284.33 441.5h8.34M288.5 437.33v8.34M322.33 435.5h8.34M326.5 431.33v8.34M298.33 443.5h8.34M302.5 439.33v8.34M297.33 443.5h8.34M301.5 439.33v8.34M299.33 435.5h8.34M303.5 431.33v8.34M327.33 431.5h8.34M331.5 427.33v8.34M287.33 447.5h8.34M291.5 443.33v8.34M302.33 450.5h8.34M306.5 446.33v8.34M293.33 449.5h8.34M297.5 445.33v8.34M322.33 445.5h8.34M326.5 441.33v8.34M296.33 445.5h8.34M300.5 441.33v8.34M327.33 442.5h8.34M331.5 438.33v8.34M325.33 451.5h8.34M329.5 447.33v8.34M304.33 450.5h8.34M308.5 446.33v8.34M319.33 435.5h8.34M323.5 431.33v8.34M331.33 451.5h8.34M335.5 447.33v8.34M321.33 440.5h8.34M325.5 436.33v8.34M314.33 442.5h8.34M318.5 438.33v8.34M311.33 447.5h8.34M315.5 443.33v8.34M312.33 431.5h8.34M316.5 427.33v8.34M313.33 452.5h8.34M317.5 448.33v8.34M308.33 450.5h8.34M312.5 446.33v8.34M332.33 442.5h8.34M336.5 438.33v8.34M300.33 440.5h8.34M304.5 436.33v8.34M332.33 452.5h8.34M336.5 448.33v8.34M296.33 434.5h8.34M300.5 430.33v8.34M331.33 437.5h8.34M335.5 433.33v8.34M287.33 438.5h8.34M291.5 434.33v8.34M317.33 442.5h8.34M321.5 438.33v8.34M311.33 442.5h8.34M315.5 438.33v8.34M333.33 442.5h8.34M337.5 438.33v8.34M312.33 453.5h8.34M316.5 449.33v8.34M326.33 439.5h8.34M330.5 435.33v8.34M301.33 443.5h8.34M305.5 439.33v8.34M310.33 447.5h8.34M314.5 443.33v8.34M301.33 431.5h8.34M305.5 427.33v8.34M306.33 441.5h8.34M310.5 437.33v8.34M324.33 454.5h8.34M328.5 450.33v8.34M293.33 449.5h8.34M297.5 445.33v8.34M293.33 453.5h8.34M297.5 449.33v8.34M328.33 438.5h8.34M332.5 434.33v8.34M310.33 440.5h8.34M314.5 436.33v8.34M296.33 451.5h8.34M300.5 447.33v8.34M312.33 452.5h8.34M316.5 448.33v8.34M306.33 452.5h8.34M310.5 448.33v8.34M310.33 451.5h8.34M314.5 447.33v8.34M318.33 433.5h8.34M322.5 429.33v8.34M325.33 445.5h8.34M329.5 441.33v8.34M307.33 443.5h8.34M311.5 439.33v8.34M306.33 446.5h8.34M310.5 442.33v8.34M287.33 445.5h8.34M291.5 441.33v8.34M314.33 445.5h8.34M318.5 441.33v8.34M318.33 455.5h8.34M322.5 451.33v8.34M293.33 432.5h8.34M297.5 428.33v8.34M315.33 449.5h8.34M319.5 445.33v8.34M319.33 442.5h8.34M323.5 438.33v8.34M293.33 446.5h8.34M297.5 442.33v8.34M301.33 436.5h8.34M305.5 432.33v8.34M320.33 439.5h8.34M324.5 435.33v8.34M329.33 445.5h8.34M333.5 441.33v8.34M332.33 445.5h8.34M336.5 441.33v8.34M320.33 444.5h8.34M324.5 440.33v8.34M307.33 429.5h8.34M311.5 425.33v8.34M347.33 434.5h8.34M351.5 430.33v8.34M354.33 441.5h8.34M358.5 437.33v8.34M342.33 441.5h8.34M346.5 437.33v8.34M353.33 444.5h8.34M357.5 440.33v8.34M344.33 448.5h8.34M348.5 444.33v8.34M352.33 442.5h8.34M356.5 438.33v8.34M359.33 442.5h8.34M363.5 438.33v8.34M345.33 441.5h8.34M349.5 437.33v8.34M345.33 449.5h8.34M349.5 445.33v8.34M347.33 438.5h8.34M351.5 434.33v8.34M350.33 430.5h8.34M354.5 426.33v8.34M372.33 441.5h8.34M376.5 437.33v8.34M365.33 442.5h8.34M369.5 438.33v8.34M345.33 440.5h8.34M349.5 436.33v8.34M344.33 433.5h8.34M348.5 429.33v8.34M350.33 449.5h8.34M354.5 445.33v8.34M357.33 450.5h8.34M361.5 446.33v8.34M346.33 438.5h8.34M350.5 434.33v8.34M349.33 440.5h8.34M353.5 436.33v8.34M353.33 446.5h8.34M357.5 442.33v8.34M340.33 442.5h8.34M344.5 438.33v8.34M344.33 442.5h8.34M348.5 438.33v8.34M359.33 440.5h8.34M363.5 436.33v8.34M339.33 445.5h8.34M343.5 441.33v8.34M344.33 440.5h8.34M348.5 436.33v8.34M365.33 452.5h8.34M369.5 448.33v8.34M349.33 436.5h8.34M353.5 432.33v8.34M345.33 449.5h8.34M349.5 445.33v8.34M341.33 451.5h8.34M345.5 447.33v8.34M344.33 443.5h8.34M348.5 439.33v8.34M359.33 453.5h8.34M363.5 449.33v8.34M341.33 455.5h8.34M345.5 451.33v8.34M345.33 432.5h8.34M349.5 428.33v8.34M355.33 434.5h8.34M359.5 430.33v8.34M341.33 441.5h8.34M345.5 437.33v8.34M338.33 445.5h8.34M342.5 441.33v8.34M343.33 442.5h8.34M347.5 438.33v8.34M339.33 440.5h8.34M343.5 436.33v8.34M360.33 438.5h8.34M364.5 434.33v8.34M344.33 434.5h8.34M348.5 430.33v8.34M341.33 441.5h8.34M345.5 437.33v8.34M359.33 448.5h8.34M363.5 444.33v8.34M360.33 438.5h8.34M364.5 434.33v8.34M359.33 447.5h8.34M363.5 443.33v8.34M346.33 440.5h8.34M350.5 436.33v8.34M362.33 449.5h8.34M366.5 445.33v8.34M361.33 446.5h8.34M365.5 442.33v8.34M344.33 441.5h8.34M348.5 437.33v8.34M341.33 438.5h8.34M345.5 434.33v8.34M355.33 447.5h8.34M359.5 443.33v8.34M347.33 442.5h8.34M351.5 438.33v8.34M339.33 443.5h8.34M343.5 439.33v8.34" stroke="#00bfbf" stroke-width="0.72" fill="none"/>
<path d="M229.0 342.1l8.34 8.34M229.0 350.5l8.34 -8.34M209.3 370.1l8.34 8.34M209.3 378.5l8.34 -8.34M236.3 383.0l8.34 8.34M236.3 391.4l8.34 -8.34M173.3 417.2l8.34 8.34M173.3 425.6l8.34 -8.34M183.3 419.0l8.34 8.34M183.3 427.4l8.34 -8.34M189.3 422.8l8.34 8.34M189.3 431.2l8.34 -8.34M227.3 458.0l8.34 8.34M227.3 466.4l8.34 -8.34" stroke="#0000ff" stroke-width="1.0" fill="none"/>
<circle cx="188.6" cy="445.6" r="4.17" fill="#bf00bf" stroke="#000" stroke-width="0.7"/>
<circle cx="229.3" cy="433.9" r="4.17" fill="#bf00bf" stroke="#000" stroke-width="0.7"/>
<circle cx="220.2" cy="439.4" r="4.17" fill="#bf00bf" stroke="#000" stroke-width="0.7"/>
<circle cx="190.8" cy="437.5" r="4.17" fill="#bf00bf" stroke="#000" stroke-width="0.7"/>
<circle cx="235.7" cy="440.5" r="4.17" fill="#bf00bf" stroke="#000" stroke-width="0.7"/>
<circle cx="229.2" cy="432.6" r="4.17" fill="#bf00bf" stroke="#000" stroke-width="0.7"/>
<circle cx="229.9" cy="447.5" r="4.17" fill="#bf00bf" stroke="#000" stroke-width="0.7"/>
<circle cx="239.1" cy="448.4" r="4.17" fill="#bf00bf" stroke="#000" stroke-width="0.7"/>
<circle cx="204.4" cy="448.6" r="4.17" fill="#bf00bf" stroke="#000" stroke-width="0.7"/>
<circle cx="204.5" cy="447.0" r="4.17" fill="#bf00bf" stroke="#000" stroke-width="0.7"/>
<circle cx="197.2" cy="448.1" r="4.17" fill="#bf00bf" stroke="#000" stroke-width="0.7"/>
<circle cx="210.5" cy="447.4" r="4.17" fill="#bf00bf" stroke="#000" stroke-width="0.7"/>
<circle cx="191.8" cy="439.8" r="4.17" fill="#bf00bf" stroke="#000" stroke-width="0.7"/>
<circle cx="223.3" cy="447.3" r="4.17" fill="#bf00bf" stroke="#000" stroke-width="0.7"/>
<circle cx="222.6" cy="436.5" r="4.17" fill="#bf00bf" stroke="#000" stroke-width="0.7"/>
<circle cx="233.5" cy="442.9" r="4.17" fill="#bf00bf" stroke="#000" stroke-width="0.7"/>
<circle cx="196.0" cy="436.9" r="4.17" fill="#bf00bf" stroke="#000" stroke-width="0.7"/>
<circle cx="196.5" cy="437.6" r="4.17" fill="#bf00bf" stroke="#000" stroke-width="0.7"/>
<circle cx="192.5" cy="441.5" r="4.17" fill="#bf00bf" stroke="#000" stroke-width="0.7"/>
<circle cx="206.2" cy="436.0" r="4.17" fill="#bf00bf" stroke="#000" stroke-width="0.7"/>
<circle cx="235.1" cy="442.7" r="4.17" fill="#bf00bf" stroke="#000" stroke-width="0.7"/>
<circle cx="212.7" cy="436.4" r="4.17" fill="#bf00bf" stroke="#000" stroke-width="0.7"/>
<circle cx="211.3" cy="444.8" r="4.17" fill="#bf00bf" stroke="#000" stroke-width="0.7"/>
<circle cx="195.6" cy="444.6" r="4.17" fill="#bf00bf" stroke="#000" stroke-width="0.7"/>
<circle cx="227.4" cy="445.2" r="4.17" fill="#bf00bf" stroke="#000" stroke-width="0.7"/>
<circle cx="216.0" cy="441.6" r="4.17" fill="#bf00bf" stroke="#000" stroke-width="0.7"/>
<circle cx="195.2" cy="436.7" r="4.17" fill="#bf00bf" stroke="#000" stroke-width="0.7"/>
<circle cx="198.7" cy="447.4" r="4.17" fill="#bf00bf" stroke="#000" stroke-width="0.7"/>
<circle cx="240.6" cy="449.2" r="4.17" fill="#bf00bf" stroke="#000" stroke-width="0.7"/>
<circle cx="221.7" cy="445.1" r="4.17" fill="#bf00bf" stroke="#000" stroke-width="0.7"/>
<circle cx="207.9" cy="437.2" r="4.17" fill="#bf00bf" stroke="#000" stroke-width="0.7"/>
<circle cx="205.4" cy="436.0" r="4.17" fill="#bf00bf" stroke="#000" stroke-width="0.7"/>
<circle cx="191.7" cy="440.8" r="4.17" fill="#bf00bf" stroke="#000" stroke-width="0.7"/>
<circle cx="198.5" cy="449.3" r="4.17" fill="#bf00bf" stroke="#000" stroke-width="0.7"/>
<circle cx="189.7" cy="448.1" r="4.17" fill="#bf00bf" stroke="#000" stroke-width="0.7"/>
<circle cx="208.3" cy="446.9" r="4.17" fill="#bf00bf" stroke="#000" stroke-width="0.7"/>
<circle cx="223.0" cy="448.5" r="4.17" fill="#bf00bf" stroke="#000" stroke-width="0.7"/>
<circle cx="221.8" cy="442.3" r="4.17" fill="#bf00bf" stroke="#000" stroke-width="0.7"/>
<circle cx="191.9" cy="437.5" r="4.17" fill="#bf00bf" stroke="#000" stroke-width="0.7"/>
<circle cx="190.8" cy="441.6" r="4.17" fill="#bf00bf" stroke="#000" stroke-width="0.7"/>
<circle cx="217.0" cy="449.0" r="4.17" fill="#bf00bf" stroke="#000" stroke-width="0.7"/>
<circle cx="241.3" cy="444.2" r="4.17" fill="#bf00bf" stroke="#000" stroke-width="0.7"/>
<circle cx="202.7" cy="446.0" r="4.17" fill="#bf00bf" stroke="#000" stroke-width="0.7"/>
<circle cx="196.3" cy="443.6" r="4.17" fill="#bf00bf" stroke="#000" stroke-width="0.7"/>
<circle cx="238.4" cy="439.0" r="4.17" fill="#bf00bf" stroke="#000" stroke-width="0.7"/>
<circle cx="214.4" cy="437.4" r="4.17" fill="#bf00bf" stroke="#000" stroke-width="0.7"/>
<circle cx="215.1" cy="436.2" r="4.17" fill="#bf00bf" stroke="#000" stroke-width="0.7"/>
<circle cx="217.2" cy="437.1" r="4.17" fill="#bf00bf" stroke="#000" stroke-width="0.7"/>
<circle cx="237.4" cy="447.7" r="4.17" fill="#bf00bf" stroke="#000" stroke-width="0.7"/>
<circle cx="225.7" cy="435.6" r="4.17" fill="#bf00bf" stroke="#000" stroke-width="0.7"/>
<circle cx="240.6" cy="445.4" r="4.17" fill="#bf00bf" stroke="#000" stroke-width="0.7"/>
<circle cx="237.2" cy="438.1" r="4.17" fill="#bf00bf" stroke="#000" stroke-width="0.7"/>
<circle cx="197.7" cy="435.1" r="4.17" fill="#bf00bf" stroke="#000" stroke-width="0.7"/>
<circle cx="219.7" cy="449.0" r="4.17" fill="#bf00bf" stroke="#000" stroke-width="0.7"/>
<circle cx="223.1" cy="443.3" r="4.17" fill="#bf00bf" stroke="#000" stroke-width="0.7"/>
<circle cx="204.6" cy="447.8" r="4.17" fill="#bf00bf" stroke="#000" stroke-width="0.7"/>
<circle cx="206.1" cy="438.7" r="4.17" fill="#bf00bf" stroke="#000" stroke-width="0.7"/>
<circle cx="191.4" cy="445.3" r="4.17" fill="#bf00bf" stroke="#000" stroke-width="0.7"/>
<circle cx="234.5" cy="444.5" r="4.17" fill="#bf00bf" stroke="#000" stroke-width="0.7"/>
<circle cx="220.1" cy="448.0" r="4.17" fill="#bf00bf" stroke="#000" stroke-width="0.7"/>
<circle cx="197.5" cy="448.8" r="4.17" fill="#bf00bf" stroke="#000" stroke-width="0.7"/>
<circle cx="207.0" cy="438.0" r="4.17" fill="#bf00bf" stroke="#000" stroke-width="0.7"/>
<circle cx="209.3" cy="442.6" r="4.17" fill="#bf00bf" stroke="#000" stroke-width="0.7"/>
<circle cx="205.5" cy="449.2" r="4.17" fill="#bf00bf" stroke="#000" stroke-width="0.7"/>
<circle cx="207.4" cy="447.7" r="4.17" fill="#bf00bf" stroke="#000" stroke-width="0.7"/>
<circle cx="224.8" cy="434.8" r="4.17" fill="#bf00bf" stroke="#000" stroke-width="0.7"/>
<circle cx="190.7" cy="445.2" r="4.17" fill="#bf00bf" stroke="#000" stroke-width="0.7"/>
<circle cx="204.3" cy="434.3" r="4.17" fill="#bf00bf" stroke="#000" stroke-width="0.7"/>
<circle cx="205.1" cy="441.0" r="4.17" fill="#bf00bf" stroke="#000" stroke-width="0.7"/>
<circle cx="214.7" cy="445.5" r="4.17" fill="#bf00bf" stroke="#000" stroke-width="0.7"/>
<circle cx="202.2" cy="449.2" r="4.17" fill="#bf00bf" stroke="#000" stroke-width="0.7"/>
<circle cx="206.5" cy="448.4" r="4.17" fill="#bf00bf" stroke="#000" stroke-width="0.7"/>
<circle cx="195.1" cy="442.2" r="4.17" fill="#bf00bf" stroke="#000" stroke-width="0.7"/>
<circle cx="228.5" cy="442.9" r="4.17" fill="#bf00bf" stroke="#000" stroke-width="0.7"/>
<circle cx="211.6" cy="447.4" r="4.17" fill="#bf00bf" stroke="#000" stroke-width="0.7"/>
<circle cx="221.5" cy="449.1" r="4.17" fill="#bf00bf" stroke="#000" stroke-width="0.7"/>
<circle cx="209.5" cy="443.5" r="4.17" fill="#bf00bf" stroke="#000" stroke-width="0.7"/>
<circle cx="236.9" cy="444.9" r="4.17" fill="#bf00bf" stroke="#000" stroke-width="0.7"/>
<circle cx="233.7" cy="448.2" r="4.17" fill="#bf00bf" stroke="#000" stroke-width="0.7"/>
<circle cx="194.7" cy="448.2" r="4.17" fill="#bf00bf" stroke="#000" stroke-width="0.7"/>
<circle cx="235.4" cy="442.5" r="4.17" fill="#bf00bf" stroke="#000" stroke-width="0.7"/>
<circle cx="200.9" cy="436.9" r="4.17" fill="#bf00bf" stroke="#000" stroke-width="0.7"/>
<circle cx="228.6" cy="443.7" r="4.17" fill="#bf00bf" stroke="#000" stroke-width="0.7"/>
<circle cx="194.0" cy="441.7" r="4.17" fill="#bf00bf" stroke="#000" stroke-width="0.7"/>
<circle cx="239.2" cy="438.5" r="4.17" fill="#bf00bf" stroke="#000" stroke-width="0.7"/>
<circle cx="190.9" cy="449.1" r="4.17" fill="#bf00bf" stroke="#000" stroke-width="0.7"/>
<circle cx="225.8" cy="443.0" r="4.17" fill="#bf00bf" stroke="#000" stroke-width="0.7"/>
<circle cx="224.6" cy="446.0" r="4.17" fill="#bf00bf" stroke="#000" stroke-width="0.7"/>
<circle cx="234.5" cy="442.0" r="4.17" fill="#bf00bf" stroke="#000" stroke-width="0.7"/>
<circle cx="195.3" cy="439.4" r="4.17" fill="#bf00bf" stroke="#000" stroke-width="0.7"/>
<circle cx="240.5" cy="440.0" r="4.17" fill="#bf00bf" stroke="#000" stroke-width="0.7"/>
<circle cx="208.5" cy="435.3" r="4.17" fill="#bf00bf" stroke="#000" stroke-width="0.7"/>
<circle cx="194.6" cy="440.9" r="4.17" fill="#bf00bf" stroke="#000" stroke-width="0.7"/>
<circle cx="207.6" cy="439.8" r="4.17" fill="#bf00bf" stroke="#000" stroke-width="0.7"/>
<circle cx="219.4" cy="442.9" r="4.17" fill="#bf00bf" stroke="#000" stroke-width="0.7"/>
<circle cx="217.9" cy="449.1" r="4.17" fill="#bf00bf" stroke="#000" stroke-width="0.7"/>
<circle cx="213.8" cy="442.7" r="4.17" fill="#bf00bf" stroke="#000" stroke-width="0.7"/>
<circle cx="225.8" cy="441.3" r="4.17" fill="#bf00bf" stroke="#000" stroke-width="0.7"/>
<circle cx="238.7" cy="440.9" r="4.17" fill="#bf00bf" stroke="#000" stroke-width="0.7"/>
<circle cx="197.2" cy="434.3" r="4.17" fill="#bf00bf" stroke="#000" stroke-width="0.7"/>
<circle cx="217.2" cy="445.5" r="4.17" fill="#bf00bf" stroke="#000" stroke-width="0.7"/>
<circle cx="219.1" cy="439.6" r="4.17" fill="#bf00bf" stroke="#000" stroke-width="0.7"/>
<circle cx="212.0" cy="437.0" r="4.17" fill="#bf00bf" stroke="#000" stroke-width="0.7"/>
<circle cx="189.9" cy="449.5" r="4.17" fill="#bf00bf" stroke="#000" stroke-width="0.7"/>
<circle cx="204.4" cy="447.0" r="4.17" fill="#bf00bf" stroke="#000" stroke-width="0.7"/>
<circle cx="204.5" cy="444.6" r="4.17" fill="#bf00bf" stroke="#000" stroke-width="0.7"/>
<circle cx="213.1" cy="440.7" r="4.17" fill="#bf00bf" stroke="#000" stroke-width="0.7"/>
<circle cx="238.3" cy="439.9" r="4.17" fill="#bf00bf" stroke="#000" stroke-width="0.7"/>
<circle cx="194.8" cy="442.4" r="4.17" fill="#bf00bf" stroke="#000" stroke-width="0.7"/>
<circle cx="224.6" cy="448.7" r="4.17" fill="#bf00bf" stroke="#000" stroke-width="0.7"/>
<circle cx="221.1" cy="440.4" r="4.17" fill="#bf00bf" stroke="#000" stroke-width="0.7"/>
<circle cx="241.1" cy="446.3" r="4.17" fill="#bf00bf" stroke="#000" stroke-width="0.7"/>
<circle cx="230.7" cy="446.2" r="4.17" fill="#bf00bf" stroke="#000" stroke-width="0.7"/>
<circle cx="240.1" cy="443.2" r="4.17" fill="#bf00bf" stroke="#000" stroke-width="0.7"/>
<circle cx="205.1" cy="442.5" r="4.17" fill="#bf00bf" stroke="#000" stroke-width="0.7"/>
<circle cx="202.9" cy="441.0" r="4.17" fill="#bf00bf" stroke="#000" stroke-width="0.7"/>
<circle cx="221.6" cy="447.9" r="4.17" fill="#bf00bf" stroke="#000" stroke-width="0.7"/>
<circle cx="195.5" cy="445.1" r="4.17" fill="#bf00bf" stroke="#000" stroke-width="0.7"/>
<circle cx="218.9" cy="430.3" r="4.17" fill="#bf00bf" stroke="#000" stroke-width="0.7"/>
<circle cx="212.2" cy="448.3" r="4.17" fill="#bf00bf" stroke="#000" stroke-width="0.7"/>
<circle cx="224.9" cy="434.9" r="4.17" fill="#bf00bf" stroke="#000" stroke-width="0.7"/>
<circle cx="197.4" cy="444.7" r="4.17" fill="#bf00bf" stroke="#000" stroke-width="0.7"/>
<circle cx="238.8" cy="438.7" r="4.17" fill="#bf00bf" stroke="#000" stroke-width="0.7"/>
<circle cx="234.9" cy="444.8" r="4.17" fill="#bf00bf" stroke="#000" stroke-width="0.7"/>
<circle cx="194.6" cy="440.6" r="4.17" fill="#bf00bf" stroke="#000" stroke-width="0.7"/>
<circle cx="201.6" cy="433.5" r="4.17" fill="#bf00bf" stroke="#000" stroke-width="0.7"/>
<circle cx="234.8" cy="449.2" r="4.17" fill="#bf00bf" stroke="#000" stroke-width="0.7"/>
<circle cx="234.3" cy="444.2" r="4.17" fill="#bf00bf" stroke="#000" stroke-width="0.7"/>
<circle cx="229.0" cy="440.5" r="4.17" fill="#bf00bf" stroke="#000" stroke-width="0.7"/>
<circle cx="193.6" cy="437.1" r="4.17" fill="#bf00bf" stroke="#000" stroke-width="0.7"/>
<circle cx="192.0" cy="448.0" r="4.17" fill="#bf00bf" stroke="#000" stroke-width="0.7"/>
<circle cx="191.0" cy="446.6" r="4.17" fill="#bf00bf" stroke="#000" stroke-width="0.7"/>
<circle cx="211.3" cy="445.1" r="4.17" fill="#bf00bf" stroke="#000" stroke-width="0.7"/>
<circle cx="232.7" cy="446.7" r="4.17" fill="#bf00bf" stroke="#000" stroke-width="0.7"/>
<circle cx="205.6" cy="446.9" r="4.17" fill="#bf00bf" stroke="#000" stroke-width="0.7"/>
<circle cx="200.2" cy="438.7" r="4.17" fill="#bf00bf" stroke="#000" stroke-width="0.7"/>
<circle cx="219.9" cy="437.5" r="4.17" fill="#bf00bf" stroke="#000" stroke-width="0.7"/>
<circle cx="221.6" cy="446.5" r="4.17" fill="#bf00bf" stroke="#000" stroke-width="0.7"/>
<circle cx="226.9" cy="437.7" r="4.17" fill="#bf00bf" stroke="#000" stroke-width="0.7"/>
<circle cx="234.6" cy="447.3" r="4.17" fill="#bf00bf" stroke="#000" stroke-width="0.7"/>
<circle cx="203.2" cy="443.3" r="4.17" fill="#bf00bf" stroke="#000" stroke-width="0.7"/>
<circle cx="209.5" cy="442.2" r="4.17" fill="#bf00bf" stroke="#000" stroke-width="0.7"/>
<circle cx="211.6" cy="433.5" r="4.17" fill="#bf00bf" stroke="#000" stroke-width="0.7"/>
<circle cx="199.1" cy="438.2" r="4.17" fill="#bf00bf" stroke="#000" stroke-width="0.7"/>
<circle cx="228.8" cy="443.3" r="4.17" fill="#bf00bf" stroke="#000" stroke-width="0.7"/>
<circle cx="193.4" cy="442.0" r="4.17" fill="#bf00bf" stroke="#000" stroke-width="0.7"/>
<circle cx="228.6" cy="444.5" r="4.17" fill="#bf00bf" stroke="#000" stroke-width="0.7"/>
<circle cx="196.1" cy="446.0" r="4.17" fill="#bf00bf" stroke="#000" stroke-width="0.7"/>
<circle cx="209.0" cy="448.1" r="4.17" fill="#bf00bf" stroke="#000" stroke-width="0.7"/>
<circle cx="220.1" cy="444.2" r="4.17" fill="#bf00bf" stroke="#000" stroke-width="0.7"/>
<circle cx="188.5" cy="435.5" r="4.17" fill="#bf00bf" stroke="#000" stroke-width="0.7"/>
<circle cx="202.0" cy="431.5" r="4.17" fill="#bf00bf" stroke="#000" stroke-width="0.7"/>
<circle cx="215.5" cy="430.7" r="4.17" fill="#bf00bf" stroke="#000" stroke-width="0.7"/>
<circle cx="219.0" cy="432.0" r="4.17" fill="#bf00bf" stroke="#000" stroke-width="0.7"/>
<circle cx="229.7" cy="436.7" r="4.17" fill="#bf00bf" stroke="#000" stroke-width="0.7"/>
<circle cx="241.0" cy="439.0" r="4.17" fill="#bf00bf" stroke="#000" stroke-width="0.7"/>
<circle cx="189.0" cy="446.0" r="4.17" fill="#bf00bf" stroke="#000" stroke-width="0.7"/>
<circle cx="190.0" cy="449.0" r="4.17" fill="#bf00bf" stroke="#000" stroke-width="0.7"/>
<circle cx="241.5" cy="444.0" r="4.17" fill="#bf00bf" stroke="#000" stroke-width="0.7"/>
<circle cx="241.0" cy="448.0" r="4.17" fill="#bf00bf" stroke="#000" stroke-width="0.7"/>
<path d="M100.0 447.12H381.82" stroke="#0000ff" stroke-width="1.39" stroke-dasharray="8.33 8.33" fill="none"/>
<path d="M100.0 444.48H381.82" stroke="#ff0000" stroke-width="1.39" stroke-dasharray="8.33 8.33" fill="none"/>
<path d="M100.0 431.52H381.82" stroke="#0000ff" stroke-width="1.39" stroke-dasharray="4.17 6.94 1.39 6.94" fill="none"/>
<path d="M100.0 457.20H381.82" stroke="#0000ff" stroke-width="1.39" stroke-dasharray="4.17 6.94 1.39 6.94" fill="none"/>
</g>
<g clip-path="url(#c2)">
<rect x="438.5" y="448.5" width="6.0" height="57.0" fill="#0000ff" stroke="#000" stroke-width="1.25"/>
<rect x="438.5" y="277.5" width="216.0" height="57.0" fill="#0000ff" stroke="#000" stroke-width="1.25"/>
<rect x="438.5" y="220.5" width="179.0" height="57.0" fill="#0000ff" stroke="#000" stroke-width="1.25"/>
<rect x="438.5" y="163.5" width="75.0" height="57.0" fill="#0000ff" stroke="#000" stroke-width="1.25"/>
<rect x="438.5" y="106.5" width="25.0" height="57.0" fill="#0000ff" stroke="#000" stroke-width="1.25"/>
<path d="M438.18 308.00H697.45" stroke="#000" stroke-width="1.39" stroke-dasharray="8.33 8.33" fill="none"/>
</g>
<rect x="100.5" y="60.5" width="282.0" height="480.0" fill="none" stroke="#000" stroke-width="1"/>
<rect x="438.5" y="60.5" width="282.0" height="480.0" fill="none" stroke="#000" stroke-width="1"/>
<text transform="translate(100.00 559.50) scale(0.95 1.07)" font-size="16.667px" text-anchor="middle">−20</text>
<text transform="translate(138.00 559.50) scale(0.95 1.07)" font-size="16.667px" text-anchor="middle">−18</text>
<text transform="translate(175.00 559.50) scale(0.95 1.07)" font-size="16.667px" text-anchor="middle">−16</text>
<text transform="translate(213.00 559.50) scale(0.95 1.07)" font-size="16.667px" text-anchor="middle">−14</text>
<text transform="translate(250.00 559.50) scale(0.95 1.07)" font-size="16.667px" text-anchor="middle">−12</text>
<text transform="translate(288.00 559.50) scale(0.95 1.07)" font-size="16.667px" text-anchor="middle">−10</text>
<text transform="translate(325.00 559.50) scale(0.95 1.07)" font-size="16.667px" text-anchor="middle">−8</text>
<text transform="translate(363.00 559.50) scale(0.95 1.07)" font-size="16.667px" text-anchor="middle">−6</text>
<text transform="translate(115.00 49.90) scale(0.96 1.07)" font-size="16.667px" text-anchor="middle">14</text>
<text transform="translate(152.00 49.90) scale(0.96 1.07)" font-size="16.667px" text-anchor="middle">16</text>
<text transform="translate(190.00 49.90) scale(0.96 1.07)" font-size="16.667px" text-anchor="middle">18</text>
<text transform="translate(227.00 49.90) scale(0.96 1.07)" font-size="16.667px" text-anchor="middle">20</text>
<text transform="translate(265.00 49.90) scale(0.96 1.07)" font-size="16.667px" text-anchor="middle">22</text>
<text transform="translate(302.00 49.90) scale(0.96 1.07)" font-size="16.667px" text-anchor="middle">24</text>
<text transform="translate(340.00 49.90) scale(0.96 1.07)" font-size="16.667px" text-anchor="middle">26</text>
<text transform="translate(378.00 49.90) scale(0.96 1.07)" font-size="16.667px" text-anchor="middle">28</text>
<text transform="translate(95.00 545.20) scale(0.94 1.07)" font-size="16.667px" text-anchor="end">0</text>
<text transform="translate(95.00 425.20) scale(0.94 1.07)" font-size="16.667px" text-anchor="end">5</text>
<text transform="translate(95.00 305.20) scale(0.94 1.07)" font-size="16.667px" text-anchor="end">10</text>
<text transform="translate(95.00 185.20) scale(0.94 1.07)" font-size="16.667px" text-anchor="end">15</text>
<text transform="translate(95.00 65.20) scale(0.94 1.07)" font-size="16.667px" text-anchor="end">20</text>
<text transform="translate(437.90 559.50) scale(0.95 1.07)" font-size="16.667px" text-anchor="middle">0</text>
<text transform="translate(468.90 559.50) scale(0.95 1.07)" font-size="16.667px" text-anchor="middle">10</text>
<text transform="translate(500.90 559.50) scale(0.95 1.07)" font-size="16.667px" text-anchor="middle">20</text>
<text transform="translate(531.90 559.50) scale(0.95 1.07)" font-size="16.667px" text-anchor="middle">30</text>
<text transform="translate(562.90 559.50) scale(0.95 1.07)" font-size="16.667px" text-anchor="middle">40</text>
<text transform="translate(594.90 559.50) scale(0.95 1.07)" font-size="16.667px" text-anchor="middle">50</text>
<text transform="translate(625.90 559.50) scale(0.95 1.07)" font-size="16.667px" text-anchor="middle">60</text>
<text transform="translate(656.90 559.50) scale(0.95 1.07)" font-size="16.667px" text-anchor="middle">70</text>
<text transform="translate(688.90 559.50) scale(0.95 1.07)" font-size="16.667px" text-anchor="middle">80</text>
<text transform="translate(719.90 559.50) scale(0.95 1.07)" font-size="16.667px" text-anchor="middle">90</text>
<text transform="translate(433.38 544.40) scale(0.93 1.07)" font-size="16.667px" text-anchor="end">3.0</text>
<text transform="translate(433.38 491.07) scale(0.93 1.07)" font-size="16.667px" text-anchor="end">3.2</text>
<text transform="translate(433.38 437.73) scale(0.93 1.07)" font-size="16.667px" text-anchor="end">3.4</text>
<text transform="translate(433.38 384.40) scale(0.93 1.07)" font-size="16.667px" text-anchor="end">3.6</text>
<text transform="translate(433.38 331.07) scale(0.93 1.07)" font-size="16.667px" text-anchor="end">3.8</text>
<text transform="translate(433.38 277.73) scale(0.93 1.07)" font-size="16.667px" text-anchor="end">4.0</text>
<text transform="translate(433.38 224.40) scale(0.93 1.07)" font-size="16.667px" text-anchor="end">4.2</text>
<text transform="translate(433.38 171.07) scale(0.93 1.07)" font-size="16.667px" text-anchor="end">4.4</text>
<text transform="translate(433.38 117.73) scale(0.93 1.07)" font-size="16.667px" text-anchor="end">4.6</text>
<text transform="translate(433.38 64.40) scale(0.93 1.07)" font-size="16.667px" text-anchor="end">4.8</text>
<path d="M100.5 540.50V534.30M138.5 540.50V534.30M175.5 540.50V534.30M213.5 540.50V534.30M250.5 540.50V534.30M288.5 540.50V534.30M325.5 540.50V534.30M363.5 540.50V534.30M115.5 60.50V66.70M152.5 60.50V66.70M190.5 60.50V66.70M227.5 60.50V66.70M265.5 60.50V66.70M302.5 60.50V66.70M340.5 60.50V66.70M378.5 60.50V66.70M100.50 540.5H106.70M382.50 540.5H376.30M100.50 420.5H106.70M382.50 420.5H376.30M100.50 300.5H106.70M382.50 300.5H376.30M100.50 180.5H106.70M382.50 180.5H376.30M100.50 60.5H106.70M382.50 60.5H376.30M438.5 540.50V534.30M438.5 60.50V66.70M469.5 540.50V534.30M469.5 60.50V66.70M501.5 540.50V534.30M501.5 60.50V66.70M532.5 540.50V534.30M532.5 60.50V66.70M563.5 540.50V534.30M563.5 60.50V66.70M595.5 540.50V534.30M595.5 60.50V66.70M626.5 540.50V534.30M626.5 60.50V66.70M657.5 540.50V534.30M657.5 60.50V66.70M689.5 540.50V534.30M689.5 60.50V66.70M720.5 540.50V534.30M720.5 60.50V66.70M438.50 540.5H444.70M720.50 540.5H714.30M438.50 487.5H444.70M720.50 487.5H714.30M438.50 433.5H444.70M720.50 433.5H714.30M438.50 380.5H444.70M720.50 380.5H714.30M438.50 327.5H444.70M720.50 327.5H714.30M438.50 273.5H444.70M720.50 273.5H714.30M438.50 220.5H444.70M720.50 220.5H714.30M438.50 167.5H444.70M720.50 167.5H714.30M438.50 113.5H444.70M720.50 113.5H714.30M438.50 60.5H444.70M720.50 60.5H714.30" stroke="#000" stroke-width="0.8" fill="none"/>
<text transform="translate(226.80 29.00)" font-size="20.000px" text-anchor="middle">FWHM vs magnitudes</text>
<text transform="translate(579.09 53.00)" font-size="20.000px" text-anchor="middle">histogram of FWHM</text>
<text transform="translate(242.41 583.20) scale(1.0 1.07)" font-size="16.667px" text-anchor="middle">magnitude (bottom:isnt / top:calib)</text>
<text transform="translate(579.59 583.20) scale(1.0 1.07)" font-size="16.667px" text-anchor="middle">number of sources</text>
<text transform="translate(63.90 300.00) rotate(-90) scale(1.0 1.07)" font-size="16.667px" text-anchor="middle">FWHM (pix)</text>
<text transform="translate(396.20 300.00) rotate(-90) scale(1.0 1.07)" font-size="16.667px" text-anchor="middle">FWHM of best-effort PSF-like sources</text>
<rect x="27.5" y="70.5" width="345.0" height="180.0" fill="#fff" stroke="#000" stroke-width="1"/>
<path d="M37.33 86.5h8.34M41.5 82.33v8.34M65.33 86.5h8.34M69.5 82.33v8.34" stroke="#00bfbf" stroke-width="0.72" fill="none"/>
<path d="M37.3 111.3l8.34 8.34M37.3 119.7l8.34 -8.34M65.3 111.3l8.34 8.34M65.3 119.7l8.34 -8.34" stroke="#0000ff" stroke-width="1.0" fill="none"/>
<circle cx="41.5" cy="144.5" r="4.17" fill="#bf00bf" stroke="#000" stroke-width="0.7"/>
<circle cx="69.5" cy="144.5" r="4.17" fill="#bf00bf" stroke="#000" stroke-width="0.7"/>
<path d="M41.5 173.5H69.5" stroke="#0000ff" stroke-width="1.39" stroke-dasharray="8.33 8.33" fill="none"/>
<path d="M41.5 202.5H69.5" stroke="#ff0000" stroke-width="1.39" stroke-dasharray="8.33 8.33" fill="none"/>
<path d="M41.5 231.5H69.5" stroke="#0000ff" stroke-width="1.39" stroke-dasharray="4.17 6.94 1.39 6.94" fill="none"/>
<text transform="translate(91.10 92.50)" font-size="20.000px" text-anchor="start">all sample</text>
<text transform="translate(91.10 121.50)" font-size="20.000px" text-anchor="start">sample for rough FWHM</text>
<text transform="translate(91.10 150.50)" font-size="20.000px" text-anchor="start">best-effort PSF-like sample</text>
<text transform="translate(91.10 179.50)" font-size="20.000px" text-anchor="start">resultant FWHM: 3.87</text>
<text transform="translate(91.10 208.50)" font-size="20.000px" text-anchor="start">median FHWM of sequence</text>
<text transform="translate(91.10 237.50)" font-size="20.000px" text-anchor="start">sigma range</text>
</svg>
</body></html>
